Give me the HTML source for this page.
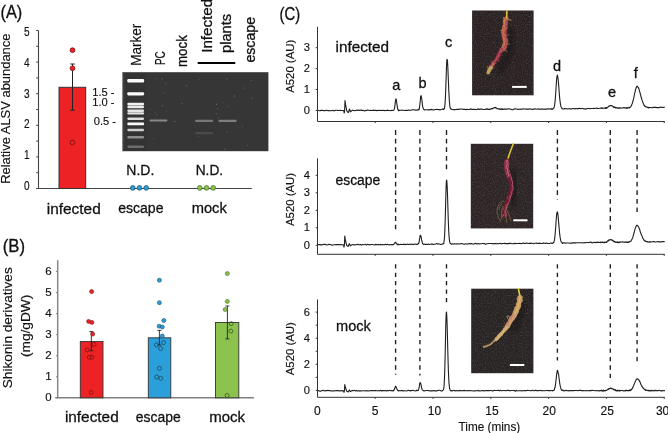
<!DOCTYPE html>
<html><head><meta charset="utf-8"><style>
html,body{margin:0;padding:0;background:#fff;}
svg{display:block;will-change:transform;}
</style></head><body>
<svg width="668" height="433" viewBox="0 0 668 433" font-family="Liberation Sans, sans-serif">
<defs>
<filter id="grain" x="0" y="0" width="100%" height="100%">
<feTurbulence type="fractalNoise" baseFrequency="0.9" numOctaves="2" seed="3" result="n"/>
<feColorMatrix type="matrix" values="0 0 0 0 0.42  0 0 0 0 0.36  0 0 0 0 0.36  0 0 0 2.2 -1.0"/>
<feComposite in2="SourceGraphic" operator="in"/>
</filter>
<filter id="bl2" x="-50%" y="-50%" width="200%" height="200%"><feGaussianBlur stdDeviation="2"/></filter>
<filter id="bl" x="-10%" y="-50%" width="120%" height="200%"><feGaussianBlur stdDeviation="0.75"/></filter>
</defs>
<rect width="668" height="433" fill="#fff"/>
<text x="0.5" y="18.3" font-size="18.5" textLength="21.8" lengthAdjust="spacingAndGlyphs" fill="#111" stroke="#111" stroke-width="0.3" >(A)</text>
<line x1="38.5" y1="30.5" x2="38.5" y2="188.5" stroke="#444" stroke-width="1.1" />
<line x1="36.2" y1="188.5" x2="38.5" y2="188.5" stroke="#444" stroke-width="1" />
<line x1="36.2" y1="172.7" x2="38.5" y2="172.7" stroke="#444" stroke-width="1" />
<line x1="36.2" y1="156.9" x2="38.5" y2="156.9" stroke="#444" stroke-width="1" />
<line x1="36.2" y1="141.1" x2="38.5" y2="141.1" stroke="#444" stroke-width="1" />
<line x1="36.2" y1="125.3" x2="38.5" y2="125.3" stroke="#444" stroke-width="1" />
<line x1="36.2" y1="109.5" x2="38.5" y2="109.5" stroke="#444" stroke-width="1" />
<line x1="36.2" y1="93.69999999999999" x2="38.5" y2="93.69999999999999" stroke="#444" stroke-width="1" />
<line x1="36.2" y1="77.89999999999999" x2="38.5" y2="77.89999999999999" stroke="#444" stroke-width="1" />
<line x1="36.2" y1="62.099999999999994" x2="38.5" y2="62.099999999999994" stroke="#444" stroke-width="1" />
<line x1="36.2" y1="46.29999999999998" x2="38.5" y2="46.29999999999998" stroke="#444" stroke-width="1" />
<line x1="36.2" y1="30.5" x2="38.5" y2="30.5" stroke="#444" stroke-width="1" />
<text x="29.6" y="190.2" font-size="12.5" text-anchor="end" textLength="5.6" lengthAdjust="spacingAndGlyphs" fill="#111" stroke="#111" stroke-width="0.15" >0</text>
<text x="29.6" y="159.3" font-size="12.5" text-anchor="end" textLength="5.6" lengthAdjust="spacingAndGlyphs" fill="#111" stroke="#111" stroke-width="0.15" >1</text>
<text x="29.6" y="128.4" font-size="12.5" text-anchor="end" textLength="5.6" lengthAdjust="spacingAndGlyphs" fill="#111" stroke="#111" stroke-width="0.15" >2</text>
<text x="29.6" y="97.5" font-size="12.5" text-anchor="end" textLength="5.6" lengthAdjust="spacingAndGlyphs" fill="#111" stroke="#111" stroke-width="0.15" >3</text>
<text x="29.6" y="66.6" font-size="12.5" text-anchor="end" textLength="5.6" lengthAdjust="spacingAndGlyphs" fill="#111" stroke="#111" stroke-width="0.15" >4</text>
<text x="29.6" y="35.7" font-size="12.5" text-anchor="end" textLength="5.6" lengthAdjust="spacingAndGlyphs" fill="#111" stroke="#111" stroke-width="0.15" >5</text>
<line x1="36.0" y1="188.5" x2="251.8" y2="188.5" stroke="#444" stroke-width="1.1" />
<text transform="translate(9.8,108.7) rotate(-90)" x="0" y="0" font-size="12.6" text-anchor="middle" textLength="150.3" lengthAdjust="spacingAndGlyphs" fill="#111" stroke="#111" stroke-width="0.15">Relative ALSV abundance</text>
<rect x="59.0" y="87.3" width="26.7" height="101.2" fill="#ED2224" stroke="#333" stroke-width="1" />
<line x1="72.5" y1="64.0" x2="72.5" y2="110.2" stroke="#222" stroke-width="1" />
<line x1="70.3" y1="64.0" x2="74.7" y2="64.0" stroke="#222" stroke-width="1" />
<line x1="70.3" y1="110.2" x2="74.7" y2="110.2" stroke="#222" stroke-width="1" />
<circle cx="72.5" cy="50.2" r="2.4" fill="#ED2224" stroke="#7a1010" stroke-width="0.8"/>
<circle cx="72.5" cy="68.3" r="2.4" fill="#ED2224" stroke="#7a1010" stroke-width="0.8"/>
<circle cx="72.3" cy="142.5" r="2.3" fill="none" stroke="#7a1010" stroke-width="0.9"/>
<circle cx="132.8" cy="187.9" r="2.4" fill="#2A9FD9" stroke="#1b4f70" stroke-width="0.7"/>
<circle cx="139.5" cy="187.9" r="2.4" fill="#2A9FD9" stroke="#1b4f70" stroke-width="0.7"/>
<circle cx="146.2" cy="187.9" r="2.4" fill="#2A9FD9" stroke="#1b4f70" stroke-width="0.7"/>
<circle cx="199.8" cy="187.9" r="2.4" fill="#8CC34E" stroke="#3f6a1f" stroke-width="0.7"/>
<circle cx="206.5" cy="187.9" r="2.4" fill="#8CC34E" stroke="#3f6a1f" stroke-width="0.7"/>
<circle cx="213.2" cy="187.9" r="2.4" fill="#8CC34E" stroke="#3f6a1f" stroke-width="0.7"/>
<text x="126.3" y="174.7" font-size="15.5" textLength="28" lengthAdjust="spacingAndGlyphs" fill="#111" stroke="#111" stroke-width="0.3" >N.D.</text>
<text x="195.7" y="174.7" font-size="15.5" textLength="27.4" lengthAdjust="spacingAndGlyphs" fill="#111" stroke="#111" stroke-width="0.3" >N.D.</text>
<text x="46.8" y="213.6" font-size="15.5" textLength="53.9" lengthAdjust="spacingAndGlyphs" fill="#111" stroke="#111" stroke-width="0.3" >infected</text>
<text x="118.2" y="212.9" font-size="15.5" textLength="45.3" lengthAdjust="spacingAndGlyphs" fill="#111" stroke="#111" stroke-width="0.3" >escape</text>
<text x="191.7" y="212.6" font-size="15.5" textLength="35.1" lengthAdjust="spacingAndGlyphs" fill="#111" stroke="#111" stroke-width="0.3" >mock</text>
<rect x="122.6" y="72.2" width="145.8" height="79.0" fill="#363636" stroke="none" stroke-width="1" />
<rect x="122.6" y="72.2" width="1.0" height="79.0" fill="#4a4a4a" stroke="none" stroke-width="1" />
<rect x="125.5" y="73" width="20.5" height="78" fill="#333333" stroke="none" stroke-width="1" />
<g filter="url(#bl)">
<rect x="127.3" y="79.05" width="16.8" height="3.5" rx="1.1" fill="#fafafa" opacity="1.0"/>
<rect x="127.3" y="92.14999999999999" width="16.8" height="3.3" rx="1.1" fill="#fafafa" opacity="1.0"/>
<rect x="127.3" y="102.8" width="16.8" height="2.6" rx="1.1" fill="#fafafa" opacity="0.95"/>
<rect x="127.3" y="105.65" width="16.8" height="2.5" rx="1.1" fill="#fafafa" opacity="0.92"/>
<rect x="127.3" y="109.45" width="16.8" height="2.5" rx="1.1" fill="#fafafa" opacity="0.9"/>
<rect x="127.3" y="112.2" width="16.8" height="2.4" rx="1.1" fill="#fafafa" opacity="0.88"/>
<rect x="127.3" y="117.45" width="16.8" height="2.5" rx="1.1" fill="#fafafa" opacity="0.85"/>
<rect x="127.3" y="122.5" width="16.8" height="2.8" rx="1.1" fill="#fafafa" opacity="1.0"/>
<rect x="127.3" y="128.65" width="16.8" height="2.5" rx="1.1" fill="#fafafa" opacity="0.78"/>
<rect x="127.3" y="136.05" width="16.8" height="2.5" rx="1.1" fill="#fafafa" opacity="0.45"/>
<rect x="127.3" y="145.45" width="16.8" height="2.5" rx="1.1" fill="#fafafa" opacity="0.28"/>
<rect x="149.5" y="119.4" width="18.0" height="2.2" rx="1" fill="#f0ece8" opacity="0.45"/>
<rect x="195.1" y="119.7" width="18.0" height="2.2" rx="1" fill="#f0ece8" opacity="0.36"/>
<rect x="218.4" y="119.7" width="18.19999999999999" height="2.2" rx="1" fill="#f0ece8" opacity="0.4"/>
<rect x="195.1" y="132.1" width="18.0" height="2.2" rx="1" fill="#f0ece8" opacity="0.11"/>
</g>
<rect x="186.2" y="85.3" width="0.9" height="0.9" fill="#bbb" opacity="0.46"/>
<rect x="156.5" y="114.2" width="0.9" height="0.9" fill="#bbb" opacity="0.35"/>
<rect x="154.8" y="112.1" width="0.9" height="0.9" fill="#bbb" opacity="0.21"/>
<rect x="199.2" y="79.2" width="0.9" height="0.9" fill="#bbb" opacity="0.24"/>
<rect x="198.1" y="136.0" width="0.9" height="0.9" fill="#bbb" opacity="0.25"/>
<rect x="174.3" y="121.1" width="0.9" height="0.9" fill="#bbb" opacity="0.58"/>
<rect x="216.1" y="103.8" width="0.9" height="0.9" fill="#bbb" opacity="0.59"/>
<rect x="153.5" y="138.4" width="0.9" height="0.9" fill="#bbb" opacity="0.32"/>
<rect x="165.0" y="82.8" width="0.9" height="0.9" fill="#bbb" opacity="0.32"/>
<rect x="244.3" y="87.6" width="0.9" height="0.9" fill="#bbb" opacity="0.43"/>
<rect x="223.4" y="101.9" width="0.9" height="0.9" fill="#bbb" opacity="0.42"/>
<rect x="155.4" y="78.5" width="0.9" height="0.9" fill="#bbb" opacity="0.28"/>
<rect x="228.3" y="106.1" width="0.9" height="0.9" fill="#bbb" opacity="0.33"/>
<rect x="217.1" y="108.0" width="0.9" height="0.9" fill="#bbb" opacity="0.32"/>
<rect x="241.7" y="126.4" width="0.9" height="0.9" fill="#bbb" opacity="0.30"/>
<rect x="215.8" y="113.4" width="0.9" height="0.9" fill="#bbb" opacity="0.55"/>
<rect x="234.1" y="95.6" width="0.9" height="0.9" fill="#bbb" opacity="0.59"/>
<rect x="161.9" y="105.4" width="0.9" height="0.9" fill="#bbb" opacity="0.50"/>
<rect x="165.9" y="110.7" width="0.9" height="0.9" fill="#bbb" opacity="0.22"/>
<rect x="226.8" y="131.3" width="0.9" height="0.9" fill="#bbb" opacity="0.43"/>
<rect x="251.3" y="97.5" width="0.9" height="0.9" fill="#bbb" opacity="0.48"/>
<rect x="218.1" y="117.5" width="0.9" height="0.9" fill="#bbb" opacity="0.38"/>
<rect x="247.1" y="144.9" width="0.9" height="0.9" fill="#bbb" opacity="0.39"/>
<rect x="226.4" y="78.6" width="0.9" height="0.9" fill="#bbb" opacity="0.48"/>
<rect x="224.4" y="148.5" width="0.9" height="0.9" fill="#bbb" opacity="0.53"/>
<rect x="181.6" y="102.9" width="0.9" height="0.9" fill="#bbb" opacity="0.47"/>
<rect x="150.7" y="108.6" width="0.9" height="0.9" fill="#bbb" opacity="0.27"/>
<rect x="161.8" y="78.4" width="0.9" height="0.9" fill="#bbb" opacity="0.51"/>
<rect x="163.3" y="92.6" width="0.9" height="0.9" fill="#bbb" opacity="0.36"/>
<rect x="250.8" y="80.0" width="0.9" height="0.9" fill="#bbb" opacity="0.38"/>
<text x="92.2" y="95.6" font-size="11" textLength="22.3" lengthAdjust="spacingAndGlyphs" fill="#111" stroke="#111" stroke-width="0.15" >1.5 -</text>
<text x="92.2" y="106.4" font-size="11" textLength="22.3" lengthAdjust="spacingAndGlyphs" fill="#111" stroke="#111" stroke-width="0.15" >1.0 -</text>
<text x="93.7" y="125.3" font-size="11" textLength="22.3" lengthAdjust="spacingAndGlyphs" fill="#111" stroke="#111" stroke-width="0.15" >0.5 -</text>
<text transform="translate(140.6,65.7) rotate(-90)" x="0" y="0" font-size="14.2" textLength="42.0" lengthAdjust="spacingAndGlyphs" fill="#111" stroke="#111" stroke-width="0.15">Marker</text>
<text transform="translate(164.6,65.1) rotate(-90)" x="0" y="0" font-size="14.2" textLength="14.0" lengthAdjust="spacingAndGlyphs" fill="#111" stroke="#111" stroke-width="0.15">PC</text>
<text transform="translate(186.8,67.0) rotate(-90)" x="0" y="0" font-size="14.5" textLength="31.8" lengthAdjust="spacingAndGlyphs" fill="#111" stroke="#111" stroke-width="0.3">mock</text>
<text transform="translate(211.9,52.8) rotate(-90)" x="0" y="0" font-size="14.5" textLength="54" lengthAdjust="spacingAndGlyphs" fill="#111" stroke="#111" stroke-width="0.3">Infected</text>
<text transform="translate(230.8,52.9) rotate(-90)" x="0" y="0" font-size="14.5" textLength="38.9" lengthAdjust="spacingAndGlyphs" fill="#111" stroke="#111" stroke-width="0.3">plants</text>
<text transform="translate(255.2,62.6) rotate(-90)" x="0" y="0" font-size="14.5" textLength="45.6" lengthAdjust="spacingAndGlyphs" fill="#111" stroke="#111" stroke-width="0.3">escape</text>
<line x1="197.7" y1="63.0" x2="235.3" y2="63.0" stroke="#000" stroke-width="2" />
<text x="2.7" y="252.2" font-size="18.5" textLength="22.3" lengthAdjust="spacingAndGlyphs" fill="#111" stroke="#111" stroke-width="0.3" >(B)</text>
<line x1="57.7" y1="260.2" x2="57.7" y2="397.8" stroke="#888" stroke-width="1.5" />
<line x1="55.900000000000006" y1="397.8" x2="57.7" y2="397.8" stroke="#888" stroke-width="1.1" />
<text x="51.7" y="401.1" font-size="11.8" text-anchor="end" textLength="6.4" lengthAdjust="spacingAndGlyphs" fill="#111" stroke="#111" stroke-width="0.15" >0</text>
<line x1="55.900000000000006" y1="376.75" x2="57.7" y2="376.75" stroke="#888" stroke-width="1.1" />
<text x="51.7" y="380.05" font-size="11.8" text-anchor="end" textLength="6.4" lengthAdjust="spacingAndGlyphs" fill="#111" stroke="#111" stroke-width="0.15" >1</text>
<line x1="55.900000000000006" y1="355.7" x2="57.7" y2="355.7" stroke="#888" stroke-width="1.1" />
<text x="51.7" y="359.0" font-size="11.8" text-anchor="end" textLength="6.4" lengthAdjust="spacingAndGlyphs" fill="#111" stroke="#111" stroke-width="0.15" >2</text>
<line x1="55.900000000000006" y1="334.65" x2="57.7" y2="334.65" stroke="#888" stroke-width="1.1" />
<text x="51.7" y="337.95" font-size="11.8" text-anchor="end" textLength="6.4" lengthAdjust="spacingAndGlyphs" fill="#111" stroke="#111" stroke-width="0.15" >3</text>
<line x1="55.900000000000006" y1="313.6" x2="57.7" y2="313.6" stroke="#888" stroke-width="1.1" />
<text x="51.7" y="316.9" font-size="11.8" text-anchor="end" textLength="6.4" lengthAdjust="spacingAndGlyphs" fill="#111" stroke="#111" stroke-width="0.15" >4</text>
<line x1="55.900000000000006" y1="292.55" x2="57.7" y2="292.55" stroke="#888" stroke-width="1.1" />
<text x="51.7" y="295.85" font-size="11.8" text-anchor="end" textLength="6.4" lengthAdjust="spacingAndGlyphs" fill="#111" stroke="#111" stroke-width="0.15" >5</text>
<line x1="55.900000000000006" y1="271.5" x2="57.7" y2="271.5" stroke="#888" stroke-width="1.1" />
<text x="51.7" y="274.8" font-size="11.8" text-anchor="end" textLength="6.4" lengthAdjust="spacingAndGlyphs" fill="#111" stroke="#111" stroke-width="0.15" >6</text>
<line x1="55.2" y1="397.8" x2="253.9" y2="397.8" stroke="#808080" stroke-width="1.6" />
<text transform="translate(11.7,388.2) rotate(-90)" x="0" y="0" font-size="13" textLength="120.9" lengthAdjust="spacingAndGlyphs" fill="#111" stroke="#111" stroke-width="0.15">Shikonin derivatives</text>
<text transform="translate(29.6,357.0) rotate(-90)" x="0" y="0" font-size="12.2" textLength="62.2" lengthAdjust="spacingAndGlyphs" fill="#111" stroke="#111" stroke-width="0.15">(mg/gDW)</text>
<rect x="80.3" y="341.5" width="22.700000000000003" height="56.30000000000001" fill="#ED2224" stroke="#333" stroke-width="0.9" />
<rect x="148.3" y="337.8" width="22.5" height="60.0" fill="#2A9FD9" stroke="#333" stroke-width="0.9" />
<rect x="215.5" y="322.5" width="23.30000000000001" height="75.30000000000001" fill="#8CC34E" stroke="#333" stroke-width="0.9" />
<line x1="91.3" y1="331.6" x2="91.3" y2="350.7" stroke="#222" stroke-width="0.9" />
<line x1="89.3" y1="331.6" x2="93.3" y2="331.6" stroke="#222" stroke-width="0.9" />
<line x1="89.3" y1="350.7" x2="93.3" y2="350.7" stroke="#222" stroke-width="0.9" />
<line x1="159.4" y1="330.4" x2="159.4" y2="345.0" stroke="#222" stroke-width="0.9" />
<line x1="157.4" y1="330.4" x2="161.4" y2="330.4" stroke="#222" stroke-width="0.9" />
<line x1="157.4" y1="345.0" x2="161.4" y2="345.0" stroke="#222" stroke-width="0.9" />
<line x1="227.4" y1="306.0" x2="227.4" y2="338.9" stroke="#222" stroke-width="0.9" />
<line x1="225.4" y1="306.0" x2="229.4" y2="306.0" stroke="#222" stroke-width="0.9" />
<line x1="225.4" y1="338.9" x2="229.4" y2="338.9" stroke="#222" stroke-width="0.9" />
<circle cx="91.6" cy="291.6" r="2.0" fill="#ED2224" stroke="#7a1010" stroke-width="0.6"/>
<circle cx="88.6" cy="321.4" r="2.0" fill="#ED2224" stroke="#7a1010" stroke-width="0.6"/>
<circle cx="91.9" cy="322.4" r="2.0" fill="#ED2224" stroke="#7a1010" stroke-width="0.6"/>
<circle cx="92.7" cy="334.1" r="2.0" fill="#ED2224" stroke="#7a1010" stroke-width="0.6"/>
<circle cx="94.1" cy="344.4" r="2.0" fill="none" stroke="#7a1010" stroke-width="0.7"/>
<circle cx="87.1" cy="349.9" r="2.0" fill="none" stroke="#7a1010" stroke-width="0.7"/>
<circle cx="89.3" cy="357.3" r="2.0" fill="none" stroke="#7a1010" stroke-width="0.7"/>
<circle cx="92.0" cy="357.3" r="2.0" fill="none" stroke="#7a1010" stroke-width="0.7"/>
<circle cx="91.2" cy="392.5" r="2.0" fill="none" stroke="#7a1010" stroke-width="0.7"/>
<circle cx="159.4" cy="280.2" r="2.0" fill="#2A9FD9" stroke="#1b4f70" stroke-width="0.6"/>
<circle cx="159.4" cy="302.7" r="2.0" fill="#2A9FD9" stroke="#1b4f70" stroke-width="0.6"/>
<circle cx="163.8" cy="320.5" r="2.0" fill="#2A9FD9" stroke="#1b4f70" stroke-width="0.6"/>
<circle cx="159.1" cy="326.2" r="2.0" fill="#2A9FD9" stroke="#1b4f70" stroke-width="0.6"/>
<circle cx="162.3" cy="327.0" r="2.0" fill="#2A9FD9" stroke="#1b4f70" stroke-width="0.6"/>
<circle cx="162.3" cy="336.0" r="2.0" fill="#2A9FD9" stroke="#1b4f70" stroke-width="0.6"/>
<circle cx="163.5" cy="342.6" r="2.0" fill="none" stroke="#1b3f55" stroke-width="0.7"/>
<circle cx="156.5" cy="344.9" r="2.0" fill="none" stroke="#1b3f55" stroke-width="0.7"/>
<circle cx="160.7" cy="348.6" r="2.0" fill="none" stroke="#1b3f55" stroke-width="0.7"/>
<circle cx="159.4" cy="368.4" r="2.0" fill="none" stroke="#1b3f55" stroke-width="0.7"/>
<circle cx="156.7" cy="377.0" r="2.0" fill="none" stroke="#1b3f55" stroke-width="0.7"/>
<circle cx="160.7" cy="378.3" r="2.0" fill="none" stroke="#1b3f55" stroke-width="0.7"/>
<circle cx="227.3" cy="273.6" r="2.0" fill="#8CC34E" stroke="#3f6a1f" stroke-width="0.6"/>
<circle cx="227.3" cy="301.4" r="2.0" fill="#8CC34E" stroke="#3f6a1f" stroke-width="0.6"/>
<circle cx="225.2" cy="309.5" r="2.0" fill="#8CC34E" stroke="#3f6a1f" stroke-width="0.6"/>
<circle cx="231.2" cy="323.6" r="2.0" fill="none" stroke="#2f4a1a" stroke-width="0.7"/>
<circle cx="230.9" cy="331.1" r="2.0" fill="none" stroke="#2f4a1a" stroke-width="0.7"/>
<circle cx="227.1" cy="395.5" r="2.0" fill="none" stroke="#2f4a1a" stroke-width="0.7"/>
<text x="64.9" y="421.6" font-size="15.5" textLength="53.8" lengthAdjust="spacingAndGlyphs" fill="#111" stroke="#111" stroke-width="0.3" >infected</text>
<text x="135.8" y="421.6" font-size="15.5" textLength="44.9" lengthAdjust="spacingAndGlyphs" fill="#111" stroke="#111" stroke-width="0.3" >escape</text>
<text x="209.2" y="421.6" font-size="15.5" textLength="35.9" lengthAdjust="spacingAndGlyphs" fill="#111" stroke="#111" stroke-width="0.3" >mock</text>
<text x="279.6" y="19.6" font-size="17.8" textLength="20.6" lengthAdjust="spacingAndGlyphs" fill="#111" stroke="#111" stroke-width="0.3">(C)</text>
<line x1="317.5" y1="26.8" x2="317.5" y2="121.5" stroke="#333" stroke-width="1" />
<line x1="317.5" y1="121.5" x2="664.8" y2="121.5" stroke="#333" stroke-width="1" />
<line x1="375.2" y1="121.5" x2="375.2" y2="123.1" stroke="#333" stroke-width="1" />
<line x1="433.0" y1="121.5" x2="433.0" y2="123.1" stroke="#333" stroke-width="1" />
<line x1="490.79999999999995" y1="121.5" x2="490.79999999999995" y2="123.1" stroke="#333" stroke-width="1" />
<line x1="548.6" y1="121.5" x2="548.6" y2="123.1" stroke="#333" stroke-width="1" />
<line x1="606.4" y1="121.5" x2="606.4" y2="123.1" stroke="#333" stroke-width="1" />
<line x1="664.2" y1="121.5" x2="664.2" y2="123.1" stroke="#333" stroke-width="1" />
<line x1="315.7" y1="110.4" x2="317.5" y2="110.4" stroke="#333" stroke-width="1" />
<line x1="315.7" y1="89.5" x2="317.5" y2="89.5" stroke="#333" stroke-width="1" />
<line x1="315.7" y1="68.60000000000001" x2="317.5" y2="68.60000000000001" stroke="#333" stroke-width="1" />
<line x1="315.7" y1="47.70000000000001" x2="317.5" y2="47.70000000000001" stroke="#333" stroke-width="1" />
<text x="310.0" y="113.8" font-size="11.5" text-anchor="end" textLength="6.2" lengthAdjust="spacingAndGlyphs" fill="#111" stroke="#111" stroke-width="0.15">0</text>
<text x="310.0" y="92.9" font-size="11.5" text-anchor="end" textLength="6.2" lengthAdjust="spacingAndGlyphs" fill="#111" stroke="#111" stroke-width="0.15">1</text>
<text x="310.0" y="72.0" font-size="11.5" text-anchor="end" textLength="6.2" lengthAdjust="spacingAndGlyphs" fill="#111" stroke="#111" stroke-width="0.15">2</text>
<text x="310.0" y="51.1" font-size="11.5" text-anchor="end" textLength="6.2" lengthAdjust="spacingAndGlyphs" fill="#111" stroke="#111" stroke-width="0.15">3</text>
<text transform="translate(293.9,66.3) rotate(-90)" x="0" y="0" font-size="11.4" text-anchor="middle" textLength="53.0" lengthAdjust="spacingAndGlyphs" fill="#111" stroke="#111" stroke-width="0.15">A520 (AU)</text>
<text x="335.5" y="51.5" font-size="15.5" textLength="53.6" lengthAdjust="spacingAndGlyphs" fill="#111" stroke="#111" stroke-width="0.3">infected</text>
<polyline points="318.00,110.23 319.00,110.58 320.00,110.71 321.00,110.38 322.00,110.20 323.00,110.47 324.00,110.59 325.00,110.72 326.00,110.21 327.00,110.19 328.00,110.63 329.00,110.58 330.00,110.81 331.00,110.68 332.00,110.44 333.00,110.40 334.00,111.03 335.00,110.39 336.00,110.28 337.00,110.20 338.00,110.47 339.00,110.48 340.00,110.37 341.00,110.43 342.00,110.50 343.00,110.48 343.25,110.57 343.50,110.66 343.75,110.99 344.00,112.24 344.25,112.98 344.50,111.70 344.75,107.33 345.00,100.51 345.25,102.41 345.50,104.20 345.75,105.54 346.00,106.88 346.25,108.22 346.50,109.56 346.75,110.72 347.00,111.15 347.25,111.59 347.50,112.03 347.75,112.13 348.00,112.23 348.25,112.33 348.50,112.42 348.75,111.57 349.00,110.72 349.25,109.87 349.50,109.02 349.75,109.72 350.00,110.42 350.25,111.12 350.50,111.82 350.75,111.59 351.00,111.37 351.25,111.14 351.50,110.92 351.75,110.72 352.00,110.52 352.25,110.32 352.50,110.12 352.75,110.19 353.00,110.26 353.25,110.34 353.50,110.41 353.75,110.56 354.75,110.65 355.75,110.45 356.75,110.01 357.75,110.56 358.75,110.09 359.75,110.36 360.75,110.07 361.75,110.39 362.75,110.22 363.75,110.43 364.75,111.11 365.75,110.37 366.75,110.57 367.75,110.09 368.75,110.31 369.75,110.52 370.75,110.35 371.75,110.45 372.75,110.39 373.75,110.14 374.75,110.49 375.75,110.18 376.75,110.77 377.75,110.24 378.75,110.50 379.75,110.35 380.75,110.56 381.75,110.21 382.75,110.56 383.75,110.31 384.75,110.61 385.75,110.47 386.75,110.36 387.75,110.16 388.75,110.50 389.75,110.43 390.75,110.68 391.75,110.24 392.75,110.44 393.00,110.42 393.25,110.36 393.50,110.29 393.75,110.16 394.00,109.71 394.25,109.06 394.50,108.19 394.75,106.86 395.00,105.00 395.25,102.56 395.50,100.48 395.75,99.11 396.00,98.93 396.25,99.59 396.50,101.19 396.75,103.27 397.00,104.74 397.25,106.39 397.50,108.35 397.75,108.96 398.00,109.76 398.25,110.11 398.50,109.88 398.75,110.76 399.00,110.66 399.25,110.33 399.50,110.46 400.50,110.32 401.50,110.08 402.50,110.23 403.50,110.31 404.50,110.46 405.50,110.35 406.50,110.18 407.50,110.45 408.50,109.96 409.50,110.28 410.50,110.33 411.50,110.01 412.50,109.66 413.50,109.83 414.50,110.06 415.50,110.11 416.50,110.31 417.50,109.73 417.75,109.94 418.00,110.07 418.25,109.86 418.50,109.30 418.75,109.82 419.00,109.79 419.25,108.81 419.50,107.21 419.75,105.54 420.00,103.31 420.25,101.10 420.50,98.10 420.75,96.10 421.00,95.72 421.25,95.80 421.50,97.48 421.75,98.77 422.00,100.96 422.25,103.38 422.50,105.46 422.75,106.85 423.00,107.94 423.25,108.28 423.50,109.04 423.75,109.36 424.00,109.54 424.25,109.87 424.50,109.70 424.75,109.97 425.00,109.81 426.00,109.71 427.00,109.79 428.00,109.83 429.00,109.91 430.00,109.59 431.00,109.63 432.00,109.36 433.00,109.99 434.00,109.94 435.00,109.56 436.00,109.47 437.00,109.29 438.00,109.58 439.00,109.57 440.00,109.98 441.00,109.53 442.00,109.29 443.00,108.89 443.25,109.71 443.50,109.39 443.75,108.89 444.00,109.05 444.25,108.19 444.50,108.46 444.75,106.46 445.00,103.96 445.25,100.24 445.50,94.89 445.75,89.07 446.00,81.48 446.25,74.34 446.50,66.74 446.75,61.69 447.00,59.41 447.25,59.65 447.50,61.36 447.75,65.44 448.00,71.46 448.25,77.67 448.50,83.60 448.75,89.61 449.00,94.81 449.25,98.98 449.50,102.40 449.75,105.25 450.00,106.81 450.25,108.22 450.50,108.45 450.75,108.85 451.00,108.91 451.25,109.22 451.50,109.03 451.75,108.96 452.00,109.52 453.00,109.69 454.00,109.55 455.00,109.66 456.00,109.42 457.00,109.20 458.00,109.37 459.00,109.27 460.00,109.10 461.00,108.97 462.00,109.01 463.00,109.33 464.00,109.36 465.00,109.22 466.00,109.64 467.00,109.36 468.00,109.44 469.00,109.58 470.00,109.13 471.00,108.87 472.00,109.47 473.00,109.15 474.00,109.58 475.00,109.37 476.00,109.51 477.00,109.45 478.00,108.82 479.00,109.43 480.00,109.12 481.00,109.10 482.00,109.17 483.00,109.43 484.00,109.45 485.00,109.48 486.00,108.89 487.00,109.12 487.25,108.72 487.50,109.22 487.75,109.37 488.00,109.07 488.25,109.29 488.50,109.28 488.75,109.45 489.00,109.04 489.25,109.02 489.50,109.03 489.75,109.56 490.00,109.39 490.25,109.10 490.50,109.14 490.75,109.07 491.00,109.03 491.25,108.88 491.50,108.77 491.75,108.48 492.00,108.52 492.25,108.93 492.50,108.57 492.75,108.35 493.00,108.18 493.25,108.13 493.50,108.09 493.75,107.77 494.00,107.88 494.25,107.83 494.50,107.57 494.75,107.55 495.00,107.51 495.25,107.52 495.50,108.00 495.75,107.36 496.00,107.90 496.25,107.93 496.50,108.03 496.75,108.30 497.00,108.64 497.25,108.52 497.50,108.58 497.75,108.57 498.00,108.76 498.25,109.07 498.50,108.85 498.75,108.74 499.00,108.76 499.25,108.83 499.50,108.80 499.75,109.37 500.00,109.23 500.25,109.11 500.50,109.49 500.75,109.03 501.00,109.35 501.25,109.36 501.50,108.85 501.75,108.85 502.00,108.99 502.25,109.39 502.50,109.48 502.75,108.92 503.00,109.42 504.00,109.10 505.00,109.10 506.00,109.06 507.00,109.10 508.00,108.77 509.00,108.95 510.00,108.89 511.00,109.27 512.00,109.62 513.00,109.75 514.00,109.08 515.00,108.77 516.00,109.05 517.00,108.93 518.00,109.57 519.00,109.26 520.00,108.97 521.00,109.33 522.00,109.24 523.00,108.76 524.00,109.00 525.00,109.06 526.00,109.11 527.00,109.13 528.00,109.02 529.00,109.14 530.00,108.96 531.00,108.89 532.00,109.42 533.00,109.16 534.00,109.17 535.00,108.72 536.00,109.03 537.00,109.25 538.00,108.78 539.00,109.30 540.00,108.97 541.00,109.14 542.00,109.02 543.00,109.09 544.00,109.30 545.00,108.95 546.00,109.38 547.00,108.86 548.00,108.82 549.00,109.18 550.00,108.78 551.00,108.93 551.25,109.21 551.50,109.28 551.75,108.62 552.00,109.11 552.25,109.41 552.50,109.23 552.75,108.88 553.00,108.73 553.25,108.68 553.50,108.28 553.75,108.13 554.00,107.61 554.25,106.81 554.50,105.94 554.75,104.01 555.00,101.61 555.25,99.48 555.50,95.80 555.75,92.29 556.00,88.45 556.25,84.51 556.50,80.79 556.75,78.01 557.00,76.54 557.25,75.06 557.50,75.39 557.75,76.72 558.00,78.40 558.25,80.78 558.50,83.62 558.75,86.09 559.00,89.53 559.25,92.88 559.50,95.91 559.75,98.75 560.00,100.89 560.25,102.69 560.50,104.35 560.75,105.56 561.00,106.63 561.25,107.45 561.50,107.75 561.75,108.01 562.00,108.25 562.25,108.85 562.50,108.99 562.75,109.00 563.00,109.01 563.25,109.02 563.50,108.85 563.75,109.00 564.75,108.62 565.75,108.79 566.75,108.66 567.75,108.96 568.75,108.66 569.75,108.75 570.75,108.85 571.75,109.04 572.75,108.55 573.75,108.51 574.75,108.88 575.75,108.44 576.75,108.76 577.75,108.52 578.75,108.61 579.75,108.22 580.75,108.76 581.75,108.48 582.75,108.38 583.75,109.01 584.75,108.70 585.75,109.30 586.75,108.60 587.75,108.42 588.75,108.50 589.75,108.82 590.75,108.44 591.75,108.53 592.75,108.53 593.75,108.20 594.75,108.42 595.75,108.26 596.75,108.08 597.75,108.53 598.75,108.47 599.75,108.33 600.75,108.10 601.00,107.85 601.25,108.40 601.50,108.26 601.75,107.91 602.00,108.26 602.25,107.94 602.50,108.26 602.75,108.30 603.00,108.34 603.25,108.30 603.50,108.29 603.75,107.99 604.00,108.15 604.25,108.11 604.50,108.16 604.75,108.26 605.00,108.32 605.25,108.52 605.50,107.56 605.75,108.18 606.00,107.99 606.25,108.48 606.50,108.11 606.75,107.45 607.00,107.79 607.25,107.47 607.50,107.66 607.75,107.05 608.00,107.09 608.25,106.90 608.50,106.72 608.75,106.41 609.00,105.95 609.25,106.28 609.50,106.23 609.75,105.86 610.00,105.54 610.25,105.73 610.50,105.77 610.75,105.61 611.00,105.67 611.25,106.03 611.50,105.54 611.75,105.76 612.00,105.57 612.25,105.95 612.50,106.08 612.75,106.17 613.00,106.38 613.25,107.07 613.50,106.78 613.75,106.94 614.00,107.58 614.25,107.21 614.50,106.96 614.75,107.54 615.00,107.34 615.25,107.99 615.50,107.43 615.75,107.64 616.00,107.47 616.25,107.88 616.50,107.68 616.75,107.91 617.00,107.87 617.25,107.83 617.50,108.19 617.75,108.20 618.00,108.01 618.25,107.81 618.50,107.77 618.75,108.07 619.00,108.53 619.25,107.90 619.50,107.83 619.75,107.85 620.00,107.76 620.25,107.78 620.50,107.95 620.75,108.30 621.75,107.97 622.75,107.84 623.75,107.59 624.00,107.98 624.25,107.93 624.50,107.66 624.75,107.69 625.00,107.91 625.25,108.14 625.50,108.05 625.75,107.95 626.00,107.83 626.25,107.97 626.50,107.89 626.75,108.36 627.00,107.62 627.25,107.78 627.50,108.12 627.75,107.77 628.00,108.12 628.25,107.76 628.50,107.77 628.75,107.60 629.00,107.32 629.25,107.33 629.50,107.93 629.75,107.46 630.00,107.30 630.25,107.19 630.50,106.88 630.75,106.70 631.00,106.10 631.25,105.72 631.50,105.54 631.75,104.72 632.00,103.91 632.25,103.48 632.50,102.65 632.75,102.06 633.00,100.85 633.25,99.78 633.50,98.88 633.75,98.17 634.00,96.65 634.25,95.50 634.50,94.25 634.75,93.11 635.00,92.08 635.25,91.07 635.50,89.36 635.75,89.08 636.00,87.96 636.25,87.22 636.50,87.30 636.75,86.38 637.00,86.68 637.25,86.47 637.50,86.15 637.75,86.72 638.00,87.12 638.25,87.38 638.50,87.45 638.75,88.52 639.00,89.27 639.25,89.85 639.50,91.34 639.75,91.77 640.00,92.66 640.25,93.62 640.50,94.47 640.75,95.42 641.00,96.56 641.25,97.53 641.50,98.25 641.75,99.20 642.00,99.74 642.25,100.94 642.50,101.39 642.75,102.29 643.00,102.67 643.25,103.34 643.50,104.03 643.75,104.19 644.00,105.43 644.25,105.26 644.50,105.59 644.75,105.74 645.00,106.52 645.25,106.70 645.50,106.65 645.75,106.45 646.00,106.79 646.25,107.15 646.50,107.00 646.75,106.94 647.00,107.01 647.25,107.16 647.50,107.38 647.75,107.27 648.00,107.44 648.25,108.08 648.50,107.87 648.75,107.26 649.00,107.58 649.25,107.53 649.50,107.48 649.75,107.75 650.00,107.44 650.25,107.45 650.50,107.43 650.75,107.49 651.75,107.79 652.75,107.66 653.75,107.18 654.75,107.36 655.75,107.27 656.75,107.61 657.75,107.46 658.75,107.59 659.75,107.37 660.75,106.95 661.75,107.45 662.75,107.39 663.75,107.43 664.75,107.02" fill="none" stroke="#1e1e1e" stroke-width="1.1" stroke-linejoin="round"/>
<line x1="317.5" y1="158.3" x2="317.5" y2="254.3" stroke="#333" stroke-width="1" />
<line x1="317.5" y1="254.3" x2="664.8" y2="254.3" stroke="#333" stroke-width="1" />
<line x1="375.2" y1="254.3" x2="375.2" y2="255.9" stroke="#333" stroke-width="1" />
<line x1="433.0" y1="254.3" x2="433.0" y2="255.9" stroke="#333" stroke-width="1" />
<line x1="490.79999999999995" y1="254.3" x2="490.79999999999995" y2="255.9" stroke="#333" stroke-width="1" />
<line x1="548.6" y1="254.3" x2="548.6" y2="255.9" stroke="#333" stroke-width="1" />
<line x1="606.4" y1="254.3" x2="606.4" y2="255.9" stroke="#333" stroke-width="1" />
<line x1="664.2" y1="254.3" x2="664.2" y2="255.9" stroke="#333" stroke-width="1" />
<line x1="315.7" y1="245.3" x2="317.5" y2="245.3" stroke="#333" stroke-width="1" />
<line x1="315.7" y1="227.8" x2="317.5" y2="227.8" stroke="#333" stroke-width="1" />
<line x1="315.7" y1="210.3" x2="317.5" y2="210.3" stroke="#333" stroke-width="1" />
<line x1="315.7" y1="192.8" x2="317.5" y2="192.8" stroke="#333" stroke-width="1" />
<line x1="315.7" y1="175.3" x2="317.5" y2="175.3" stroke="#333" stroke-width="1" />
<text x="310.0" y="248.7" font-size="11.5" text-anchor="end" textLength="6.2" lengthAdjust="spacingAndGlyphs" fill="#111" stroke="#111" stroke-width="0.15">0</text>
<text x="310.0" y="231.2" font-size="11.5" text-anchor="end" textLength="6.2" lengthAdjust="spacingAndGlyphs" fill="#111" stroke="#111" stroke-width="0.15">1</text>
<text x="310.0" y="213.7" font-size="11.5" text-anchor="end" textLength="6.2" lengthAdjust="spacingAndGlyphs" fill="#111" stroke="#111" stroke-width="0.15">2</text>
<text x="310.0" y="196.2" font-size="11.5" text-anchor="end" textLength="6.2" lengthAdjust="spacingAndGlyphs" fill="#111" stroke="#111" stroke-width="0.15">3</text>
<text x="310.0" y="178.7" font-size="11.5" text-anchor="end" textLength="6.2" lengthAdjust="spacingAndGlyphs" fill="#111" stroke="#111" stroke-width="0.15">4</text>
<text transform="translate(293.9,199.5) rotate(-90)" x="0" y="0" font-size="11.4" text-anchor="middle" textLength="53.0" lengthAdjust="spacingAndGlyphs" fill="#111" stroke="#111" stroke-width="0.15">A520 (AU)</text>
<text x="335.5" y="185.2" font-size="15.5" textLength="44.7" lengthAdjust="spacingAndGlyphs" fill="#111" stroke="#111" stroke-width="0.3">escape</text>
<polyline points="318.00,244.82 319.00,244.64 320.00,244.64 321.00,244.87 322.00,244.86 323.00,244.58 324.00,244.40 325.00,244.23 326.00,244.64 327.00,245.01 328.00,244.75 329.00,244.26 330.00,244.56 331.00,244.84 332.00,245.12 333.00,245.00 334.00,244.82 335.00,244.78 336.00,244.50 337.00,244.63 338.00,244.65 339.00,244.55 340.00,244.73 341.00,244.63 342.00,244.79 343.00,244.80 343.25,244.88 343.50,244.96 343.75,246.02 344.00,247.08 344.25,246.00 344.50,243.60 344.75,235.95 345.00,237.56 345.25,239.17 345.50,240.31 345.75,241.45 346.00,242.59 346.25,243.73 346.50,244.86 346.75,245.24 347.00,245.61 347.25,245.98 347.50,246.12 347.75,246.20 348.00,246.29 348.25,246.37 348.50,245.81 348.75,245.09 349.00,244.36 349.25,243.64 349.50,243.97 349.75,244.56 350.00,245.16 350.25,245.75 350.50,245.72 350.75,245.52 351.00,245.33 351.25,245.14 351.50,244.97 351.75,244.79 352.00,244.62 352.25,244.45 352.50,244.47 352.75,244.53 353.00,244.59 353.25,244.66 353.50,244.98 354.50,244.83 355.50,244.75 356.50,244.61 357.50,244.32 358.50,244.63 359.50,244.77 360.50,244.42 361.50,244.92 362.50,244.56 363.50,244.71 364.50,244.56 365.50,244.35 366.50,245.08 367.50,244.36 368.50,244.82 369.50,244.49 370.50,244.67 371.50,244.43 372.50,244.51 373.50,244.80 374.50,245.02 375.50,244.40 376.50,244.59 377.50,244.79 378.50,244.44 379.50,244.73 380.50,244.40 381.50,244.70 382.50,244.66 383.50,244.83 384.50,244.64 385.50,244.29 386.50,244.70 387.50,244.30 388.50,244.71 389.50,244.87 390.50,244.67 391.50,244.41 392.50,244.79 392.75,244.55 393.00,244.23 393.25,244.39 393.50,244.72 393.75,244.22 394.00,244.12 394.25,243.73 394.50,243.09 394.75,242.97 395.00,242.83 395.25,242.60 395.50,242.49 395.75,242.19 396.00,243.18 396.25,243.39 396.50,243.79 396.75,244.15 397.00,244.00 397.25,244.14 397.50,244.45 397.75,244.81 398.00,244.11 398.25,244.44 398.50,244.34 398.75,244.63 399.00,244.83 400.00,244.43 401.00,244.22 402.00,244.49 403.00,244.40 404.00,244.12 405.00,244.64 406.00,244.32 407.00,244.57 408.00,244.12 409.00,244.64 410.00,244.07 411.00,244.61 412.00,243.97 413.00,244.66 414.00,244.26 415.00,243.99 416.00,244.27 417.00,244.38 417.25,244.09 417.50,244.18 417.75,244.32 418.00,244.16 418.25,243.37 418.50,243.65 418.75,243.28 419.00,242.34 419.25,241.20 419.50,239.19 419.75,238.16 420.00,236.25 420.25,235.21 420.50,235.26 420.75,235.73 421.00,236.52 421.25,237.65 421.50,239.41 421.75,240.61 422.00,241.25 422.25,242.33 422.50,243.33 422.75,243.68 423.00,243.99 423.25,244.22 423.50,244.19 423.75,244.55 424.00,244.09 424.25,244.14 424.50,244.30 425.50,244.38 426.50,244.38 427.50,244.52 428.50,244.08 429.50,244.43 430.50,244.26 431.50,243.92 432.50,244.11 433.50,244.59 434.50,244.29 435.50,244.00 436.50,243.57 437.50,243.92 438.50,243.92 439.50,244.08 440.50,244.56 441.50,244.20 442.50,244.08 442.75,243.78 443.00,243.66 443.25,243.74 443.50,243.39 443.75,243.57 444.00,241.73 444.25,239.81 444.50,237.16 444.75,232.40 445.00,225.85 445.25,218.43 445.50,208.82 445.75,198.90 446.00,190.36 446.25,183.62 446.50,179.94 446.75,180.34 447.00,183.34 447.25,188.26 447.50,194.99 447.75,202.83 448.00,211.39 448.25,219.26 448.50,225.84 448.75,231.36 449.00,235.68 449.25,238.36 449.50,240.73 449.75,241.58 450.00,242.95 450.25,243.42 450.50,243.61 450.75,243.70 451.00,243.63 451.25,243.95 451.50,244.22 452.50,243.86 453.50,244.06 454.50,243.78 455.50,243.98 456.50,243.69 457.50,243.99 458.50,243.85 459.50,243.96 460.50,243.75 461.50,243.62 462.50,243.80 463.50,244.09 464.50,244.21 465.50,243.78 466.50,244.02 467.50,244.00 468.50,243.92 469.50,243.48 470.50,243.89 471.50,243.59 472.50,244.06 473.50,243.97 474.50,243.92 475.50,243.22 476.50,243.91 477.50,243.92 478.50,243.48 479.50,243.96 480.50,243.76 481.50,243.69 482.50,243.57 483.50,243.50 484.50,243.62 485.50,244.38 486.50,243.74 487.50,243.74 488.50,243.54 489.50,243.54 490.50,243.55 491.50,243.47 492.50,243.85 493.50,243.59 494.50,243.83 495.50,243.38 496.50,243.83 497.50,243.61 498.50,243.76 499.50,243.58 500.50,243.40 501.50,243.86 502.50,243.49 503.50,243.54 504.50,243.37 505.50,243.60 506.50,243.47 507.50,243.61 508.50,243.61 509.50,243.38 510.50,243.21 511.50,243.61 512.50,243.71 513.50,243.65 514.50,243.24 515.50,243.62 516.50,243.56 517.50,243.54 518.50,243.56 519.50,243.39 520.50,243.50 521.50,243.65 522.50,243.33 523.50,243.11 524.50,243.40 525.50,243.46 526.50,243.00 527.50,243.25 528.50,243.52 529.50,243.35 530.50,243.40 531.50,243.09 532.50,243.56 533.50,243.74 534.50,243.31 535.50,243.18 536.50,243.08 537.50,243.52 538.50,243.34 539.50,243.14 540.50,243.57 541.50,243.47 542.50,243.42 543.50,242.90 544.50,243.25 545.50,243.41 546.50,242.99 547.50,243.46 548.50,243.56 549.50,243.47 550.50,243.07 551.50,243.07 551.75,243.43 552.00,243.43 552.25,243.47 552.50,243.44 552.75,243.10 553.00,242.95 553.25,242.49 553.50,242.83 553.75,242.78 554.00,241.58 554.25,240.70 554.50,239.70 554.75,237.95 555.00,235.37 555.25,232.81 555.50,229.55 555.75,226.72 556.00,222.45 556.25,219.25 556.50,216.35 556.75,213.92 557.00,212.35 557.25,212.04 557.50,211.94 557.75,213.39 558.00,215.20 558.25,217.69 558.50,221.08 558.75,223.07 559.00,226.53 559.25,229.00 559.50,232.22 559.75,234.57 560.00,236.20 560.25,238.45 560.50,239.38 560.75,240.71 561.00,241.30 561.25,241.70 561.50,242.17 561.75,242.52 562.00,242.88 562.25,242.90 562.50,243.47 562.75,242.96 563.00,242.93 563.25,242.89 563.50,242.88 563.75,242.74 564.75,242.83 565.75,243.23 566.75,243.03 567.75,242.97 568.75,243.07 569.75,243.21 570.75,243.09 571.75,243.11 572.75,242.80 573.75,242.85 574.75,242.73 575.75,242.86 576.75,242.69 577.75,242.77 578.75,242.80 579.75,242.77 580.75,242.75 581.75,242.68 582.75,243.06 583.75,242.68 584.75,242.52 585.75,242.77 586.75,242.47 587.75,242.46 588.75,242.70 589.75,242.30 590.75,241.94 591.75,242.70 592.75,242.85 593.75,242.24 594.75,242.39 595.75,242.70 596.75,242.12 597.75,242.35 598.75,242.26 599.75,242.47 600.75,242.06 601.00,242.69 601.25,242.46 601.50,242.55 601.75,242.41 602.00,242.01 602.25,242.44 602.50,242.17 602.75,242.47 603.00,242.27 603.25,242.38 603.50,242.40 603.75,242.61 604.00,242.60 604.25,242.19 604.50,242.39 604.75,242.70 605.00,242.46 605.25,242.15 605.50,242.24 605.75,242.13 606.00,242.34 606.25,242.06 606.50,242.03 606.75,242.31 607.00,241.38 607.25,241.30 607.50,240.96 607.75,240.80 608.00,241.13 608.25,240.79 608.50,240.87 608.75,239.87 609.00,239.91 609.25,240.24 609.50,240.00 609.75,239.86 610.00,239.78 610.25,239.56 610.50,239.55 610.75,239.59 611.00,239.83 611.25,239.69 611.50,239.91 611.75,240.28 612.00,239.85 612.25,240.09 612.50,240.54 612.75,240.52 613.00,240.71 613.25,241.37 613.50,241.16 613.75,241.12 614.00,241.60 614.25,242.04 614.50,241.36 614.75,241.56 615.00,241.82 615.25,241.74 615.50,242.43 615.75,242.12 616.00,241.97 616.25,242.20 616.50,241.95 616.75,242.02 617.00,242.19 617.25,242.71 617.50,241.70 617.75,242.29 618.00,242.50 618.25,242.37 618.50,242.63 618.75,242.31 619.00,242.24 619.25,242.18 619.50,242.02 619.75,242.56 620.00,241.94 620.25,242.17 620.50,242.08 621.50,242.01 622.50,241.68 623.50,242.08 623.75,242.19 624.00,242.19 624.25,242.34 624.50,242.11 624.75,242.01 625.00,242.21 625.25,242.29 625.50,241.94 625.75,241.80 626.00,241.90 626.25,242.36 626.50,242.34 626.75,241.92 627.00,242.13 627.25,242.28 627.50,242.37 627.75,241.92 628.00,241.99 628.25,242.33 628.50,242.52 628.75,242.28 629.00,241.64 629.25,241.93 629.50,241.68 629.75,241.63 630.00,241.37 630.25,241.25 630.50,241.17 630.75,241.34 631.00,240.83 631.25,240.45 631.50,239.99 631.75,239.40 632.00,239.03 632.25,238.80 632.50,238.10 632.75,237.68 633.00,236.57 633.25,235.72 633.50,234.53 633.75,234.09 634.00,232.71 634.25,232.50 634.50,231.09 634.75,230.31 635.00,229.12 635.25,228.47 635.50,227.60 635.75,227.36 636.00,226.58 636.25,225.79 636.50,225.27 636.75,225.47 637.00,225.30 637.25,225.21 637.50,225.71 637.75,225.76 638.00,226.13 638.25,226.35 638.50,226.81 638.75,227.35 639.00,227.67 639.25,228.79 639.50,229.40 639.75,229.63 640.00,230.75 640.25,231.72 640.50,232.25 640.75,233.22 641.00,233.60 641.25,234.36 641.50,234.76 641.75,235.50 642.00,235.92 642.25,236.72 642.50,237.52 642.75,238.09 643.00,238.70 643.25,238.91 643.50,239.05 643.75,239.72 644.00,239.91 644.25,240.61 644.50,240.90 644.75,240.90 645.00,240.63 645.25,240.93 645.50,241.23 645.75,241.15 646.00,241.53 646.25,241.65 646.50,241.76 646.75,241.68 647.00,241.49 647.25,241.54 647.50,241.73 647.75,242.07 648.00,242.15 648.25,242.03 648.50,241.91 648.75,241.99 649.00,242.03 649.25,242.13 649.50,242.04 649.75,241.52 650.00,242.07 650.25,241.94 650.50,241.75 650.75,241.97 651.75,241.91 652.75,241.82 653.75,241.45 654.75,241.84 655.75,241.93 656.75,241.78 657.75,241.43 658.75,241.87 659.75,241.92 660.75,241.79 661.75,241.83 662.75,241.65 663.75,241.57 664.75,241.82" fill="none" stroke="#1e1e1e" stroke-width="1.1" stroke-linejoin="round"/>
<line x1="317.5" y1="299.4" x2="317.5" y2="397.3" stroke="#333" stroke-width="1" />
<line x1="317.5" y1="397.3" x2="664.8" y2="397.3" stroke="#333" stroke-width="1" />
<line x1="375.2" y1="397.3" x2="375.2" y2="398.90000000000003" stroke="#333" stroke-width="1" />
<line x1="433.0" y1="397.3" x2="433.0" y2="398.90000000000003" stroke="#333" stroke-width="1" />
<line x1="490.79999999999995" y1="397.3" x2="490.79999999999995" y2="398.90000000000003" stroke="#333" stroke-width="1" />
<line x1="548.6" y1="397.3" x2="548.6" y2="398.90000000000003" stroke="#333" stroke-width="1" />
<line x1="606.4" y1="397.3" x2="606.4" y2="398.90000000000003" stroke="#333" stroke-width="1" />
<line x1="664.2" y1="397.3" x2="664.2" y2="398.90000000000003" stroke="#333" stroke-width="1" />
<line x1="315.7" y1="390.4" x2="317.5" y2="390.4" stroke="#333" stroke-width="1" />
<line x1="315.7" y1="377.34999999999997" x2="317.5" y2="377.34999999999997" stroke="#333" stroke-width="1" />
<line x1="315.7" y1="364.29999999999995" x2="317.5" y2="364.29999999999995" stroke="#333" stroke-width="1" />
<line x1="315.7" y1="351.25" x2="317.5" y2="351.25" stroke="#333" stroke-width="1" />
<line x1="315.7" y1="338.2" x2="317.5" y2="338.2" stroke="#333" stroke-width="1" />
<line x1="315.7" y1="325.15" x2="317.5" y2="325.15" stroke="#333" stroke-width="1" />
<line x1="315.7" y1="312.09999999999997" x2="317.5" y2="312.09999999999997" stroke="#333" stroke-width="1" />
<text x="310.0" y="393.8" font-size="11.5" text-anchor="end" textLength="6.2" lengthAdjust="spacingAndGlyphs" fill="#111" stroke="#111" stroke-width="0.15">0</text>
<text x="310.0" y="367.7" font-size="11.5" text-anchor="end" textLength="6.2" lengthAdjust="spacingAndGlyphs" fill="#111" stroke="#111" stroke-width="0.15">2</text>
<text x="310.0" y="341.6" font-size="11.5" text-anchor="end" textLength="6.2" lengthAdjust="spacingAndGlyphs" fill="#111" stroke="#111" stroke-width="0.15">4</text>
<text x="310.0" y="315.5" font-size="11.5" text-anchor="end" textLength="6.2" lengthAdjust="spacingAndGlyphs" fill="#111" stroke="#111" stroke-width="0.15">6</text>
<text transform="translate(293.9,348.7) rotate(-90)" x="0" y="0" font-size="11.4" text-anchor="middle" textLength="53.0" lengthAdjust="spacingAndGlyphs" fill="#111" stroke="#111" stroke-width="0.15">A520 (AU)</text>
<text x="336.1" y="331.3" font-size="15.5" textLength="34.8" lengthAdjust="spacingAndGlyphs" fill="#111" stroke="#111" stroke-width="0.3">mock</text>
<polyline points="318.00,390.62 319.00,390.74 320.00,391.42 321.00,390.86 322.00,390.73 323.00,390.34 324.00,390.72 325.00,390.86 326.00,390.54 327.00,390.64 328.00,390.20 329.00,390.82 330.00,390.57 331.00,390.85 332.00,391.00 333.00,390.66 334.00,390.91 335.00,390.75 336.00,390.65 337.00,390.63 338.00,390.51 339.00,390.98 340.00,390.89 341.00,390.47 342.00,390.88 343.00,390.76 343.25,390.82 343.50,390.87 343.75,391.62 344.00,392.37 344.25,391.61 344.50,389.91 344.75,384.51 345.00,385.65 345.25,386.79 345.50,387.60 345.75,388.40 346.00,389.20 346.25,390.01 346.50,390.81 346.75,391.07 347.00,391.34 347.25,391.60 347.50,391.70 347.75,391.76 348.00,391.82 348.25,391.88 348.50,391.48 348.75,390.97 349.00,390.46 349.25,389.95 349.50,390.19 349.75,390.61 350.00,391.03 350.25,391.45 350.50,391.42 350.75,391.29 351.00,391.15 351.25,391.02 351.50,390.89 351.75,390.77 352.00,390.65 352.25,390.53 352.50,390.55 352.75,390.59 353.00,390.64 353.25,390.68 353.50,390.53 354.50,390.36 355.50,390.95 356.50,390.41 357.50,390.95 358.50,390.73 359.50,390.89 360.50,390.80 361.50,390.94 362.50,390.76 363.50,390.81 364.50,390.74 365.50,390.93 366.50,390.60 367.50,390.91 368.50,391.02 369.50,390.67 370.50,390.78 371.50,390.57 372.50,390.62 373.50,390.74 374.50,390.61 375.50,390.49 376.50,390.68 377.50,390.72 378.50,390.75 379.50,390.84 380.50,390.29 381.50,390.99 382.50,390.64 383.50,390.51 384.50,390.60 385.50,390.78 386.50,390.87 387.50,390.60 388.50,390.71 389.50,390.33 390.50,390.72 391.50,390.65 392.50,390.58 392.75,390.87 393.00,391.05 393.25,390.85 393.50,390.37 393.75,390.72 394.00,390.02 394.25,389.63 394.50,388.88 394.75,388.33 395.00,387.55 395.25,386.80 395.50,386.36 395.75,386.41 396.00,386.69 396.25,387.58 396.50,387.95 396.75,388.74 397.00,389.35 397.25,389.71 397.50,390.16 397.75,390.11 398.00,390.64 398.25,390.74 398.50,390.59 398.75,391.01 399.00,390.49 399.25,390.80 400.25,390.78 401.25,390.56 402.25,390.62 403.25,390.87 404.25,390.69 405.25,390.74 406.25,390.98 407.25,390.72 408.25,390.31 409.25,390.51 410.25,390.86 411.25,390.64 412.25,390.44 413.25,390.24 414.25,390.74 415.25,391.00 416.25,390.40 416.50,390.20 416.75,390.78 417.00,390.55 417.25,390.60 417.50,390.57 417.75,390.40 418.00,390.58 418.25,390.45 418.50,389.88 418.75,388.94 419.00,388.20 419.25,386.55 419.50,385.14 419.75,383.38 420.00,382.77 420.25,382.54 420.50,383.02 420.75,383.54 421.00,384.74 421.25,385.76 421.50,387.30 421.75,388.34 422.00,389.26 422.25,389.57 422.50,389.81 422.75,390.33 423.00,390.46 423.25,390.43 423.50,390.77 423.75,390.86 424.00,390.75 424.25,390.91 425.25,390.76 426.25,390.46 427.25,390.54 428.25,390.59 429.25,390.82 430.25,390.87 431.25,390.70 432.25,390.89 433.25,390.49 434.25,390.64 435.25,390.99 436.25,390.76 437.25,390.89 438.25,390.26 439.25,390.30 440.25,390.48 441.25,390.88 442.25,391.00 442.50,390.49 442.75,390.35 443.00,390.20 443.25,389.92 443.50,389.61 443.75,388.24 444.00,386.65 444.25,383.01 444.50,377.55 444.75,370.52 445.00,361.06 445.25,350.16 445.50,338.30 445.75,326.79 446.00,318.12 446.25,312.87 446.50,312.12 446.75,315.20 447.00,321.27 447.25,329.28 447.50,338.75 447.75,349.09 448.00,358.27 448.25,366.52 448.50,373.72 448.75,378.76 449.00,383.14 449.25,385.67 449.50,387.77 449.75,388.68 450.00,389.63 450.25,390.40 450.50,390.39 450.75,390.29 451.00,390.99 451.25,390.50 452.25,390.98 453.25,390.55 454.25,390.35 455.25,391.06 456.25,390.57 457.25,390.82 458.25,390.92 459.25,390.38 460.25,390.68 461.25,390.54 462.25,390.79 463.25,390.66 464.25,390.39 465.25,390.67 466.25,390.82 467.25,390.59 468.25,390.78 469.25,390.54 470.25,390.65 471.25,390.73 472.25,390.69 473.25,390.93 474.25,390.86 475.25,390.84 476.25,390.81 477.25,390.69 478.25,390.40 479.25,390.88 480.25,391.03 481.25,390.70 482.25,390.60 483.25,390.65 484.25,390.91 485.25,390.71 486.25,390.44 487.25,390.62 488.25,390.49 489.25,390.61 490.25,390.46 491.25,390.46 492.25,390.97 493.25,390.88 494.25,390.30 495.25,390.44 496.25,390.55 497.25,390.57 498.25,390.35 499.25,390.84 500.25,390.30 501.25,390.80 502.25,390.80 503.25,390.57 504.25,390.51 505.25,390.66 506.25,390.68 507.25,390.20 508.25,390.38 509.25,390.76 510.25,390.62 511.25,390.56 512.25,390.43 513.25,390.49 514.25,390.48 515.25,391.25 516.25,390.37 517.25,390.97 518.25,390.75 519.25,390.69 520.25,390.69 521.25,390.56 522.25,390.99 523.25,390.75 524.25,390.64 525.25,390.62 526.25,390.68 527.25,390.40 528.25,390.57 529.25,390.51 530.25,390.77 531.25,390.77 532.25,390.24 533.25,390.59 534.25,390.85 535.25,390.36 536.25,390.38 537.25,390.85 538.25,390.61 539.25,390.54 540.25,390.38 541.25,390.67 542.25,390.52 543.25,390.68 544.25,390.73 545.25,390.79 546.25,390.57 547.25,390.52 548.25,390.64 549.25,390.61 550.25,390.67 551.25,390.52 551.50,390.58 551.75,390.51 552.00,390.51 552.25,390.66 552.50,390.87 552.75,390.49 553.00,390.71 553.25,390.61 553.50,390.48 553.75,390.47 554.00,389.98 554.25,389.88 554.50,389.30 554.75,387.75 555.00,387.56 555.25,386.29 555.50,384.93 555.75,382.32 556.00,380.38 556.25,378.11 556.50,375.55 556.75,373.96 557.00,372.16 557.25,370.83 557.50,370.37 557.75,370.79 558.00,372.10 558.25,373.18 558.50,373.65 558.75,375.50 559.00,377.89 559.25,379.61 559.50,381.34 559.75,383.32 560.00,384.75 560.25,386.13 560.50,387.24 560.75,387.86 561.00,389.09 561.25,389.25 561.50,390.00 561.75,390.19 562.00,390.26 562.25,390.42 562.50,390.47 562.75,390.14 563.00,390.51 563.25,390.69 563.50,390.27 563.75,390.30 564.00,390.86 565.00,390.80 566.00,390.30 567.00,390.73 568.00,390.62 569.00,390.84 570.00,390.56 571.00,390.58 572.00,390.47 573.00,390.67 574.00,390.60 575.00,390.49 576.00,390.55 577.00,390.46 578.00,390.76 579.00,390.40 580.00,390.29 581.00,390.42 582.00,390.86 583.00,390.52 584.00,390.76 585.00,390.78 586.00,390.51 587.00,390.79 588.00,390.73 589.00,390.61 590.00,390.47 591.00,390.61 592.00,390.34 593.00,390.56 594.00,390.50 595.00,390.72 596.00,390.70 597.00,390.48 598.00,390.81 599.00,390.88 600.00,390.63 601.00,390.46 601.25,390.73 601.50,390.09 601.75,390.49 602.00,390.75 602.25,391.05 602.50,390.46 602.75,390.95 603.00,391.12 603.25,391.02 603.50,390.10 603.75,390.85 604.00,390.65 604.25,390.82 604.50,390.55 604.75,390.44 605.00,390.51 605.25,390.86 605.50,390.69 605.75,390.40 606.00,390.50 606.25,390.54 606.50,390.40 606.75,390.17 607.00,389.93 607.25,389.79 607.50,389.72 607.75,389.54 608.00,389.15 608.25,389.02 608.50,389.34 608.75,388.74 609.00,388.53 609.25,388.66 609.50,388.85 609.75,388.71 610.00,388.27 610.25,388.10 610.50,388.20 610.75,388.14 611.00,388.26 611.25,388.55 611.50,388.30 611.75,388.46 612.00,388.69 612.25,388.86 612.50,388.83 612.75,388.96 613.00,389.03 613.25,389.25 613.50,389.66 613.75,389.62 614.00,389.12 614.25,390.05 614.50,390.00 614.75,389.92 615.00,390.14 615.25,389.60 615.50,389.97 615.75,390.64 616.00,390.89 616.25,390.94 616.50,390.34 616.75,390.53 617.00,390.71 617.25,390.29 617.50,390.96 617.75,390.43 618.00,390.67 618.25,390.35 618.50,390.68 618.75,390.60 619.00,390.84 619.25,390.36 619.50,390.61 619.75,391.01 620.00,390.35 620.25,390.69 620.50,390.71 621.50,390.50 622.50,390.55 623.50,390.92 624.50,390.86 624.75,390.74 625.00,390.67 625.25,390.36 625.50,390.63 625.75,391.00 626.00,390.84 626.25,390.31 626.50,390.15 626.75,390.46 627.00,390.64 627.25,390.48 627.50,390.52 627.75,390.66 628.00,390.77 628.25,390.61 628.50,390.82 628.75,390.21 629.00,390.60 629.25,390.55 629.50,390.08 629.75,390.62 630.00,389.92 630.25,389.86 630.50,390.65 630.75,390.21 631.00,389.85 631.25,389.87 631.50,389.59 631.75,388.82 632.00,388.87 632.25,388.72 632.50,387.98 632.75,387.59 633.00,386.99 633.25,386.72 633.50,385.87 633.75,385.26 634.00,384.49 634.25,383.91 634.50,383.50 634.75,382.90 635.00,382.06 635.25,381.29 635.50,381.01 635.75,380.47 636.00,380.20 636.25,379.41 636.50,379.11 636.75,379.08 637.00,379.18 637.25,378.80 637.50,378.84 637.75,378.75 638.00,379.05 638.25,379.57 638.50,379.83 638.75,380.22 639.00,379.99 639.25,380.95 639.50,381.02 639.75,381.83 640.00,381.68 640.25,382.69 640.50,383.04 640.75,384.05 641.00,384.32 641.25,385.09 641.50,385.21 641.75,386.22 642.00,386.15 642.25,387.11 642.50,387.00 642.75,387.28 643.00,388.05 643.25,388.10 643.50,388.47 643.75,388.46 644.00,388.93 644.25,389.26 644.50,389.27 644.75,389.69 645.00,389.25 645.25,390.09 645.50,389.92 645.75,390.43 646.00,390.11 646.25,390.12 646.50,390.23 646.75,390.44 647.00,390.55 647.25,390.35 647.50,390.31 647.75,390.61 648.00,390.71 648.25,390.16 648.50,390.32 648.75,390.42 649.00,390.96 649.25,390.86 649.50,390.77 649.75,390.70 650.00,390.35 650.25,390.85 650.50,390.50 650.75,390.42 651.00,391.03 652.00,390.28 653.00,390.91 654.00,390.65 655.00,390.40 656.00,390.64 657.00,390.42 658.00,390.64 659.00,390.46 660.00,390.34 661.00,391.19 662.00,390.49 663.00,390.82 664.00,390.59 665.00,390.75" fill="none" stroke="#1e1e1e" stroke-width="1.1" stroke-linejoin="round"/>
<text x="392.2" y="89.8" font-size="14.5" fill="#111" stroke="#111" stroke-width="0.3">a</text>
<text x="418.4" y="87.7" font-size="14.5" fill="#111" stroke="#111" stroke-width="0.3">b</text>
<text x="445.0" y="47.3" font-size="14.5" fill="#111" stroke="#111" stroke-width="0.3">c</text>
<text x="553.1" y="70.6" font-size="14.5" fill="#111" stroke="#111" stroke-width="0.3">d</text>
<text x="608.1" y="96.8" font-size="14.5" fill="#111" stroke="#111" stroke-width="0.3">e</text>
<text x="633.7" y="78.2" font-size="14.5" fill="#111" stroke="#111" stroke-width="0.3">f</text>
<line x1="395.6" y1="130.1" x2="395.6" y2="229.3" stroke="#222" stroke-width="1.4" stroke-dasharray="4.8 3.8"/>
<line x1="395.6" y1="264.2" x2="395.6" y2="374.8" stroke="#222" stroke-width="1.4" stroke-dasharray="4.3 4.13"/>
<line x1="419.9" y1="130.1" x2="419.9" y2="229.3" stroke="#222" stroke-width="1.4" stroke-dasharray="4.8 3.8"/>
<line x1="419.9" y1="264.2" x2="419.9" y2="375.5" stroke="#222" stroke-width="1.4" stroke-dasharray="4.3 4.13"/>
<line x1="446.5" y1="130.1" x2="446.5" y2="169.2" stroke="#222" stroke-width="1.4" stroke-dasharray="4.8 3.8"/>
<line x1="446.5" y1="264.2" x2="446.5" y2="303.5" stroke="#222" stroke-width="1.4" stroke-dasharray="4.3 4.13"/>
<line x1="557.4" y1="130.1" x2="557.4" y2="199.4" stroke="#222" stroke-width="1.4" stroke-dasharray="4.8 3.8"/>
<line x1="557.4" y1="264.2" x2="557.4" y2="360.5" stroke="#222" stroke-width="1.4" stroke-dasharray="4.3 4.13"/>
<line x1="610.3" y1="130.1" x2="610.3" y2="229.6" stroke="#222" stroke-width="1.4" stroke-dasharray="4.8 3.8"/>
<line x1="610.3" y1="264.2" x2="610.3" y2="378.3" stroke="#222" stroke-width="1.4" stroke-dasharray="4.3 4.13"/>
<line x1="637.1" y1="130.1" x2="637.1" y2="212.1" stroke="#222" stroke-width="1.4" stroke-dasharray="4.8 3.8"/>
<line x1="637.1" y1="264.2" x2="637.1" y2="362.9" stroke="#222" stroke-width="1.4" stroke-dasharray="4.3 4.13"/>
<text x="317.4" y="414.8" font-size="12" text-anchor="middle" fill="#111" stroke="#111" stroke-width="0.15">0</text>
<text x="375.0" y="414.8" font-size="12" text-anchor="middle" fill="#111" stroke="#111" stroke-width="0.15">5</text>
<text x="434.4" y="414.8" font-size="12" text-anchor="middle" fill="#111" stroke="#111" stroke-width="0.15">10</text>
<text x="491.9" y="414.8" font-size="12" text-anchor="middle" fill="#111" stroke="#111" stroke-width="0.15">15</text>
<text x="549.3" y="414.8" font-size="12" text-anchor="middle" fill="#111" stroke="#111" stroke-width="0.15">20</text>
<text x="607.3" y="414.8" font-size="12" text-anchor="middle" fill="#111" stroke="#111" stroke-width="0.15">25</text>
<text x="662.6" y="414.8" font-size="12" text-anchor="middle" fill="#111" stroke="#111" stroke-width="0.15">30</text>
<text x="458.6" y="430.5" font-size="12.8" textLength="61.6" lengthAdjust="spacingAndGlyphs" fill="#111" stroke="#111" stroke-width="0.15">Time (mins)</text>
<rect x="472.1" y="10.5" width="61.5" height="84.8" fill="#2a2222"/>
<rect x="472.1" y="10.5" width="61.5" height="84.8" fill="#fff" opacity="0.25" filter="url(#grain)"/>
<path d="M511,30 L511,45 L507,58 L500,70" fill="none" stroke="#150f10" stroke-width="5" opacity="0.55" stroke-linecap="round" filter="url(#bl2)"/>
<path d="M506.5,18.0 L506.4,18.9 L506.2,20.1 L506.0,21.6 L505.8,23.2 L505.6,24.7 L505.4,26.2 L505.2,27.6 L505.0,28.9 L504.8,30.3 L504.7,31.6 L504.6,33.0 L504.6,34.3 L504.7,35.7 L505.0,37.1 L505.4,38.4 L505.7,39.8 L505.9,41.1 L506.0,42.4 L505.8,43.7 L505.5,44.9 L505.1,46.2 L504.6,47.3 L504.3,48.2 L504.0,48.9" fill="none" stroke="#a03a50" stroke-width="4.2" stroke-linecap="round" stroke-linejoin="round" opacity="0.9"/>
<path d="M504.0,48.9 L503.7,49.0 L503.2,49.1 L502.7,49.3 L502.1,49.5 L501.5,49.9 L501.0,50.5 L500.5,51.3 L499.9,52.4 L499.4,53.5 L498.9,54.8 L498.3,56.0 L497.8,57.0 L497.3,57.9 L496.7,58.7 L496.2,59.5 L495.7,60.3 L495.1,61.0 L494.6,61.8 L494.0,62.7 L493.4,63.6 L492.8,64.5 L492.2,65.4 L491.7,66.2 L491.3,66.7" fill="none" stroke="#962a45" stroke-width="2.8" stroke-linecap="round" stroke-linejoin="round" opacity="0.9"/>
<path d="M491.3,66.7 L491.1,67.1 L490.8,67.6 L490.5,68.2 L490.1,68.8 L489.8,69.4 L489.5,70.0 L489.2,70.5 L489.0,71.1 L488.7,71.6 L488.4,72.1 L488.2,72.5 L488.1,72.8" fill="none" stroke="#b89860" stroke-width="3.5" stroke-linecap="round" stroke-linejoin="round" opacity="0.9"/>
<path d="M506.1,17.9 L505.5,18.8 L505.1,20.0 L505.2,21.5 L505.2,23.1 L504.5,24.6 L504.4,26.1 L505.0,27.5 L505.1,28.9 L504.7,30.2 L504.3,31.6 L503.5,32.9 L504.2,34.3 L504.7,35.7 L504.8,37.1 L504.5,38.7 L505.3,39.9 L505.8,41.2 L504.9,42.4 L505.4,43.6 L504.6,44.7 L505.1,46.2 L503.9,47.0 L503.8,48.0 L503.9,48.9" fill="none" stroke="#d09050" stroke-width="1.18" stroke-linecap="round" stroke-linejoin="round" opacity="0.75"/>
<path d="M504.7,17.7 L505.4,18.8 L504.3,19.9 L504.6,21.4 L504.2,23.0 L504.7,24.6 L503.5,26.0 L503.7,27.3 L503.1,28.6 L503.0,30.0 L503.7,31.5 L503.5,32.9 L503.8,34.3 L503.9,35.8 L504.3,37.2 L504.4,38.7 L504.3,40.1 L505.3,41.2 L504.4,42.3 L504.8,43.4 L504.5,44.6 L503.4,45.5 L503.5,46.8 L503.3,47.8 L502.8,48.5" fill="none" stroke="#b84a58" stroke-width="1.02" stroke-linecap="round" stroke-linejoin="round" opacity="0.76"/>
<path d="M503.6,17.6 L504.3,18.6 L504.1,19.8 L503.7,21.3 L503.6,22.9 L503.5,24.5 L502.7,25.9 L503.0,27.3 L502.5,28.5 L502.4,30.0 L501.8,31.3 L502.9,32.9 L502.7,34.4 L502.1,36.1 L502.9,37.6 L503.1,39.0 L502.9,40.4 L504.0,41.4 L503.8,42.3 L503.5,43.2 L503.0,44.2 L503.1,45.4 L502.8,46.5 L502.2,47.4 L501.2,47.9" fill="none" stroke="#a8304a" stroke-width="0.73" stroke-linecap="round" stroke-linejoin="round" opacity="0.88"/>
<path d="M507.4,18.1 L506.4,18.9 L506.8,20.2 L506.9,21.7 L506.7,23.3 L506.7,24.9 L506.6,26.4 L506.4,27.7 L505.4,29.0 L504.8,30.3 L505.8,31.7 L505.9,33.0 L504.6,34.3 L505.4,35.6 L505.8,36.9 L506.4,38.2 L506.2,39.7 L506.1,41.1 L506.7,42.4 L506.6,43.8 L506.7,45.3 L505.2,46.2 L505.9,47.8 L504.9,48.5 L504.2,49.0" fill="none" stroke="#b84a58" stroke-width="0.68" stroke-linecap="round" stroke-linejoin="round" opacity="0.93"/>
<path d="M503.8,17.6 L504.4,18.6 L504.5,19.9 L504.0,21.3 L504.3,23.0 L503.5,24.5 L503.8,26.0 L502.5,27.2 L502.7,28.6 L503.2,30.0 L502.5,31.4 L501.8,32.9 L502.2,34.4 L502.9,36.0 L503.2,37.5 L503.3,39.0 L503.0,40.4 L504.3,41.3 L503.4,42.3 L503.7,43.2 L503.9,44.4 L502.5,45.2 L502.2,46.3 L502.7,47.6 L502.0,48.1" fill="none" stroke="#d09050" stroke-width="0.91" stroke-linecap="round" stroke-linejoin="round" opacity="0.89"/>
<path d="M506.1,17.9 L506.0,18.8 L505.9,20.1 L505.8,21.6 L505.4,23.1 L505.8,24.8 L505.1,26.2 L505.5,27.6 L505.0,28.9 L504.5,30.2 L504.4,31.6 L504.9,33.0 L504.0,34.3 L504.5,35.7 L504.9,37.1 L506.0,38.3 L505.6,39.8 L506.3,41.1 L505.7,42.4 L505.9,43.7 L505.1,44.8 L504.9,46.1 L504.2,47.1 L504.4,48.3 L503.8,48.8" fill="none" stroke="#a8304a" stroke-width="1.04" stroke-linecap="round" stroke-linejoin="round" opacity="0.96"/>
<path d="M506.7,18.0 L506.8,19.0 L506.3,20.1 L506.1,21.6 L506.5,23.3 L506.3,24.8 L506.6,26.3 L505.5,27.6 L505.1,28.9 L505.6,30.3 L505.1,31.6 L505.0,33.0 L505.0,34.3 L505.9,35.5 L505.3,37.0 L506.0,38.3 L506.2,39.7 L506.8,41.0 L506.5,42.4 L506.2,43.7 L506.0,45.1 L505.5,46.3 L505.9,47.8 L505.4,48.7 L504.8,49.2" fill="none" stroke="#b84a58" stroke-width="0.99" stroke-linecap="round" stroke-linejoin="round" opacity="0.80"/>
<path d="M505.3,17.8 L504.8,18.7 L504.7,19.9 L505.6,21.5 L504.4,23.0 L505.2,24.7 L503.9,26.0 L504.4,27.4 L504.1,28.8 L504.1,30.2 L504.0,31.5 L503.5,32.9 L504.3,34.3 L504.3,35.7 L503.9,37.3 L504.7,38.6 L505.0,40.0 L504.4,41.3 L504.6,42.3 L504.5,43.4 L504.4,44.6 L504.2,45.8 L503.2,46.7 L503.4,47.9 L503.4,48.7" fill="none" stroke="#d09050" stroke-width="0.78" stroke-linecap="round" stroke-linejoin="round" opacity="0.88"/>
<path d="M503.7,17.6 L503.8,18.5 L504.2,19.8 L503.4,21.2 L503.4,22.9 L503.6,24.5 L503.7,26.0 L502.9,27.2 L502.8,28.6 L502.1,29.9 L501.9,31.4 L502.3,32.9 L502.6,34.4 L502.1,36.1 L503.6,37.4 L503.8,38.8 L503.5,40.3 L503.6,41.4 L504.3,42.3 L503.5,43.2 L502.9,44.1 L503.2,45.5 L502.7,46.5 L502.6,47.6 L502.2,48.2" fill="none" stroke="#c08050" stroke-width="1.18" stroke-linecap="round" stroke-linejoin="round" opacity="0.84"/>
<path d="M504.2,17.7 L504.5,18.6 L503.3,19.7 L503.8,21.3 L503.7,22.9 L503.6,24.5 L502.5,25.8 L503.0,27.3 L503.1,28.6 L502.7,30.0 L503.0,31.5 L502.2,32.9 L502.5,34.4 L502.8,36.0 L502.5,37.6 L502.8,39.1 L504.2,40.1 L503.7,41.4 L504.1,42.3 L503.1,43.1 L503.0,44.2 L503.3,45.5 L502.9,46.6 L502.6,47.6 L501.3,47.9" fill="none" stroke="#b84a58" stroke-width="0.78" stroke-linecap="round" stroke-linejoin="round" opacity="0.90"/>
<path d="M503.9,48.6 L503.6,48.7 L503.4,49.7 L502.9,49.7 L502.3,49.8 L501.5,49.8 L501.0,50.5 L500.3,51.2 L500.4,52.6 L499.6,53.6 L498.8,54.7 L498.1,55.9 L498.2,57.2 L497.8,58.2 L496.8,58.7 L496.1,59.4 L496.1,60.5 L495.1,61.0 L494.9,62.0 L494.1,62.8 L493.2,63.5 L492.7,64.5 L492.1,65.4 L491.4,66.0 L491.2,66.7" fill="none" stroke="#b85060" stroke-width="1.13" stroke-linecap="round" stroke-linejoin="round" opacity="0.96"/>
<path d="M503.9,48.6 L503.7,49.1 L503.2,49.0 L502.8,49.6 L502.4,50.0 L501.4,49.8 L501.0,50.5 L500.4,51.3 L500.0,52.4 L499.7,53.7 L499.3,54.9 L498.2,55.9 L497.5,56.8 L496.9,57.7 L496.8,58.7 L496.3,59.6 L495.7,60.3 L495.6,61.3 L494.5,61.7 L494.3,62.8 L493.8,63.9 L493.2,64.8 L491.9,65.2 L491.9,66.3 L491.4,66.8" fill="none" stroke="#b03550" stroke-width="0.73" stroke-linecap="round" stroke-linejoin="round" opacity="0.85"/>
<path d="M503.9,48.6 L503.8,49.3 L503.2,49.0 L502.6,48.9 L502.0,49.4 L501.8,50.2 L501.2,50.7 L500.2,51.1 L500.3,52.5 L499.4,53.5 L499.0,54.8 L498.7,56.1 L497.7,57.0 L497.7,58.2 L497.1,59.0 L496.3,59.6 L496.1,60.5 L495.5,61.3 L494.6,61.8 L493.9,62.6 L493.1,63.4 L493.1,64.8 L492.3,65.5 L491.8,66.3 L491.3,66.7" fill="none" stroke="#9a2845" stroke-width="0.94" stroke-linecap="round" stroke-linejoin="round" opacity="0.98"/>
<path d="M504.3,49.6 L503.9,49.6 L503.3,49.5 L502.8,49.5 L502.4,50.1 L501.5,49.9 L501.3,50.7 L501.1,51.7 L500.7,52.7 L500.0,53.8 L498.9,54.8 L498.9,56.2 L497.7,57.0 L497.3,57.9 L496.8,58.7 L496.6,59.8 L496.1,60.6 L495.8,61.5 L495.3,62.3 L494.5,63.0 L493.7,63.8 L493.5,65.0 L492.2,65.4 L492.0,66.4 L491.7,67.0" fill="none" stroke="#9a2845" stroke-width="0.89" stroke-linecap="round" stroke-linejoin="round" opacity="0.87"/>
<path d="M503.4,47.2 L503.4,48.0 L502.8,47.5 L502.3,48.3 L501.6,48.6 L500.3,48.5 L499.7,49.5 L499.4,50.7 L499.0,51.9 L497.6,52.8 L497.4,54.1 L496.7,55.2 L496.8,56.5 L495.9,57.1 L495.6,58.0 L495.2,58.8 L494.6,59.5 L493.8,60.1 L493.5,61.1 L492.9,61.9 L492.5,63.0 L491.2,63.5 L490.8,64.5 L490.2,65.2 L490.1,65.9" fill="none" stroke="#9a2845" stroke-width="1.13" stroke-linecap="round" stroke-linejoin="round" opacity="0.88"/>
<path d="M504.0,48.9 L503.7,49.0 L503.3,49.3 L502.8,49.4 L502.1,49.6 L501.6,49.9 L500.8,50.3 L499.8,51.0 L499.5,52.2 L499.3,53.5 L498.7,54.7 L498.2,55.9 L497.2,56.6 L496.7,57.5 L496.6,58.7 L496.0,59.4 L495.7,60.3 L494.8,60.8 L494.7,61.9 L493.5,62.3 L492.8,63.2 L492.5,64.4 L491.9,65.2 L491.7,66.2 L490.8,66.4" fill="none" stroke="#b85060" stroke-width="1.08" stroke-linecap="round" stroke-linejoin="round" opacity="0.92"/>
<path d="M504.6,50.5 L504.0,50.2 L503.7,50.7 L503.4,51.1 L503.1,51.3 L502.5,51.1 L501.9,51.2 L502.1,52.2 L501.0,52.9 L500.9,54.2 L500.3,55.4 L499.9,56.7 L498.7,57.5 L498.9,58.9 L497.8,59.4 L497.4,60.3 L496.8,61.0 L496.3,61.8 L495.5,62.4 L495.1,63.4 L494.5,64.3 L494.3,65.6 L493.5,66.3 L493.3,67.2 L492.1,67.3" fill="none" stroke="#9a2845" stroke-width="0.93" stroke-linecap="round" stroke-linejoin="round" opacity="0.94"/>
<path d="M505.6,24.7 Q504.5,22.1 502.9,19.7" fill="none" stroke="#c09a58" stroke-width="0.6" opacity="0.8"/>
<path d="M505.0,28.9 Q506.7,28.8 507.3,29.0" fill="none" stroke="#c09a58" stroke-width="0.6" opacity="0.8"/>
<path d="M506.4,18.9 Q509.7,19.6 511.6,20.0" fill="none" stroke="#c09a58" stroke-width="0.6" opacity="0.8"/>
<path d="M506.0,21.6 Q506.3,19.3 505.4,18.7" fill="none" stroke="#c09a58" stroke-width="0.6" opacity="0.8"/>
<path d="M505.4,38.4 Q505.9,38.7 508.2,39.4" fill="none" stroke="#c09a58" stroke-width="0.6" opacity="0.8"/>
<path d="M506.4,18.9 Q508.8,20.0 511.5,20.5" fill="none" stroke="#c09a58" stroke-width="0.6" opacity="0.8"/>
<path d="M506.4,18.9 Q508.1,18.7 509.0,18.0" fill="none" stroke="#c09a58" stroke-width="0.6" opacity="0.8"/>
<path d="M505.4,26.2 Q503.9,25.2 503.1,25.7" fill="none" stroke="#c09a58" stroke-width="0.6" opacity="0.8"/>
<path d="M505.9,41.1 Q506.4,41.5 508.6,40.9" fill="none" stroke="#c09a58" stroke-width="0.6" opacity="0.8"/>
<path d="M505.8,43.7 Q507.9,44.0 510.0,44.1" fill="none" stroke="#c09a58" stroke-width="0.6" opacity="0.8"/>
<path d="M504.6,34.3 Q502.4,34.6 502.1,33.9" fill="none" stroke="#c09a58" stroke-width="0.6" opacity="0.8"/>
<path d="M504.6,47.3 Q501.6,47.3 499.6,48.9" fill="none" stroke="#c09a58" stroke-width="0.6" opacity="0.8"/>
<path d="M504.8,30.3 Q501.8,30.3 499.8,30.8" fill="none" stroke="#c09a58" stroke-width="0.6" opacity="0.8"/>
<path d="M505.8,23.2 Q506.1,23.2 507.4,24.9" fill="none" stroke="#c09a58" stroke-width="0.6" opacity="0.8"/>
<path d="M504.7,35.7 Q506.6,35.2 509.3,34.7" fill="none" stroke="#c09a58" stroke-width="0.6" opacity="0.8"/>
<path d="M505.2,27.6 Q506.1,27.7 507.9,28.4" fill="none" stroke="#c09a58" stroke-width="0.6" opacity="0.8"/>
<path d="M502.7,49.3 Q504.4,50.8 506.6,51.2" fill="none" stroke="#b88a58" stroke-width="0.6" opacity="0.8"/>
<path d="M504.0,48.9 Q506.1,47.8 507.1,46.5" fill="none" stroke="#b88a58" stroke-width="0.6" opacity="0.8"/>
<path d="M496.7,58.7 Q498.6,59.4 499.3,61.9" fill="none" stroke="#b88a58" stroke-width="0.6" opacity="0.8"/>
<path d="M503.7,49.0 Q503.9,47.4 502.8,46.3" fill="none" stroke="#b88a58" stroke-width="0.6" opacity="0.8"/>
<path d="M502.1,49.5 Q500.8,50.9 500.9,52.2" fill="none" stroke="#b88a58" stroke-width="0.6" opacity="0.8"/>
<path d="M498.9,54.8 Q499.2,56.0 498.4,56.9" fill="none" stroke="#b88a58" stroke-width="0.6" opacity="0.8"/>
<path d="M504.0,48.9 Q506.4,50.5 507.5,52.3" fill="none" stroke="#b88a58" stroke-width="0.6" opacity="0.8"/>
<path d="M499.9,52.4 Q501.2,51.6 503.6,51.2" fill="none" stroke="#b88a58" stroke-width="0.6" opacity="0.8"/>
<path d="M492.1,67.1 L492.3,67.7 L491.0,67.7 L491.7,68.8 L489.6,68.5 L490.8,70.0 L489.8,70.1 L489.4,70.6 L490.2,71.7 L488.6,71.6 L489.1,72.4 L488.9,72.8 L489.0,73.2" fill="none" stroke="#d0b070" stroke-width="0.82" stroke-linecap="round" stroke-linejoin="round" opacity="0.81"/>
<path d="M491.1,66.6 L490.2,66.6 L489.6,66.9 L490.1,68.0 L488.8,68.1 L489.3,69.1 L490.0,70.3 L488.2,70.0 L488.8,71.0 L489.3,71.9 L487.1,71.4 L488.9,72.8 L487.6,72.5" fill="none" stroke="#b8985a" stroke-width="0.84" stroke-linecap="round" stroke-linejoin="round" opacity="0.97"/>
<path d="M492.3,67.3 L490.8,66.9 L491.6,68.0 L490.8,68.4 L490.0,68.7 L489.6,69.3 L490.2,70.3 L488.9,70.4 L488.7,70.9 L488.7,71.6 L488.0,71.8 L489.6,73.2 L488.5,73.0" fill="none" stroke="#b8985a" stroke-width="0.77" stroke-linecap="round" stroke-linejoin="round" opacity="0.79"/>
<path d="M493.2,67.7 L492.7,68.0 L492.6,68.5 L490.9,68.4 L490.2,68.9 L491.4,70.3 L489.8,70.2 L490.5,71.2 L489.5,71.3 L488.8,71.7 L489.1,72.4 L488.5,72.6 L489.3,73.4" fill="none" stroke="#a88850" stroke-width="0.61" stroke-linecap="round" stroke-linejoin="round" opacity="0.88"/>
<path d="M490.3,66.2 L491.8,67.5 L490.1,67.2 L490.0,67.9 L489.8,68.6 L489.5,69.3 L489.1,69.8 L488.5,70.2 L488.7,71.0 L487.8,71.1 L488.0,71.9 L487.0,71.9 L487.7,72.6" fill="none" stroke="#b8985a" stroke-width="0.63" stroke-linecap="round" stroke-linejoin="round" opacity="0.79"/>
<path d="M491.2,66.7 L491.3,67.2 L491.6,68.0 L491.7,68.8 L491.3,69.4 L490.4,69.8 L489.6,70.1 L489.0,70.4 L488.8,71.0 L489.4,72.0 L487.8,71.8 L489.0,72.9 L487.9,72.7" fill="none" stroke="#c8a468" stroke-width="0.64" stroke-linecap="round" stroke-linejoin="round" opacity="0.94"/>
<path d="M489.9,65.9 L490.1,66.5 L489.5,66.9 L489.4,67.6 L489.3,68.4 L489.8,69.4 L488.9,69.7 L487.8,69.8 L488.9,71.1 L487.1,70.8 L487.7,71.7 L487.9,72.3 L488.6,73.0" fill="none" stroke="#d0b070" stroke-width="0.80" stroke-linecap="round" stroke-linejoin="round" opacity="0.79"/>
<path d="M491.5,66.0 Q494.0,64.1 496.1,62.7" fill="none" stroke="#c0a060" stroke-width="0.6" opacity="0.8"/>
<path d="M490.5,68.2 Q492.4,66.8 493.6,63.5" fill="none" stroke="#c0a060" stroke-width="0.6" opacity="0.8"/>
<path d="M489.2,70.6 Q489.9,69.2 491.3,68.8" fill="none" stroke="#c0a060" stroke-width="0.6" opacity="0.8"/>
<path d="M490.8,67.6 Q492.2,67.3 493.0,66.0" fill="none" stroke="#c0a060" stroke-width="0.6" opacity="0.8"/>
<path d="M489.2,70.6 Q488.2,69.1 486.8,67.1" fill="none" stroke="#c0a060" stroke-width="0.6" opacity="0.8"/>
<path d="M492.4,64.2 Q492.0,62.5 491.9,60.6" fill="none" stroke="#c0a060" stroke-width="0.6" opacity="0.8"/>
<path d="M489.2,70.6 Q488.9,73.1 488.2,73.6" fill="none" stroke="#c0a060" stroke-width="0.6" opacity="0.8"/>
<path d="M489.8,69.4 Q488.2,70.2 487.5,70.7" fill="none" stroke="#c0a060" stroke-width="0.6" opacity="0.8"/>
<path d="M493.0,63.0 Q493.7,64.6 494.1,65.5" fill="none" stroke="#c0a060" stroke-width="0.6" opacity="0.8"/>
<path d="M488.1,72.8 Q487.9,72.4 487.8,70.6" fill="none" stroke="#c0a060" stroke-width="0.6" opacity="0.8"/>
<path d="M490.8,67.6 Q490.0,70.9 488.6,72.5" fill="none" stroke="#c0a060" stroke-width="0.6" opacity="0.8"/>
<path d="M489.2,70.6 Q491.5,69.9 492.7,67.9" fill="none" stroke="#c0a060" stroke-width="0.6" opacity="0.8"/>
<path d="M491.3,66.7 Q490.9,67.2 492.2,69.2" fill="none" stroke="#c0a060" stroke-width="0.6" opacity="0.8"/>
<path d="M490.5,68.2 Q488.5,67.9 487.1,66.5" fill="none" stroke="#c0a060" stroke-width="0.6" opacity="0.8"/>
<path d="M506.9,10.5 L506.6,18.5" stroke="#e0b840" stroke-width="1.7" fill="none"/>
<rect x="512.1" y="85.9" width="14.600000000000023" height="2" fill="#fff"/>
<rect x="470.8" y="143.8" width="62.400000000000034" height="84.6" fill="#2d2525"/>
<rect x="470.8" y="143.8" width="62.400000000000034" height="84.6" fill="#fff" opacity="0.25" filter="url(#grain)"/>
<path d="M514,172 L515,190 L512,205" fill="none" stroke="#150f10" stroke-width="5" opacity="0.55" stroke-linecap="round" filter="url(#bl2)"/>
<path d="M513.3,143.8 L510.5,151 L507.2,160.5" stroke="#dcc43a" stroke-width="1.6" fill="none" stroke-linecap="round"/>
<path d="M507.2,160.5 L507.1,161.1 L507.0,161.9 L506.8,162.9 L506.6,163.9 L506.5,165.0 L506.5,166.0 L506.6,167.0 L506.7,168.0 L506.8,169.0 L507.0,170.0 L507.3,171.0 L507.5,172.0 L507.8,173.0 L508.1,174.0 L508.5,175.0 L508.9,175.9 L509.2,176.6 L509.4,177.2" fill="none" stroke="#74203a" stroke-width="4.4" stroke-linecap="round" stroke-linejoin="round" opacity="0.9"/>
<path d="M509.4,177.2 L509.6,178.2 L509.9,179.7 L510.3,181.4 L510.6,183.3 L510.9,185.1 L511.0,186.7 L510.9,188.2 L510.8,189.6 L510.5,191.0 L510.2,192.4 L509.8,193.8 L509.4,195.2 L508.9,196.6 L508.4,198.1 L507.8,199.6 L507.2,201.0 L506.7,202.4 L506.2,203.7 L505.8,204.9 L505.3,206.0 L504.9,207.0 L504.6,208.0 L504.3,209.1 L504.1,210.1 L504.0,211.2 L504.1,212.5 L504.2,213.7 L504.3,214.8 L504.4,215.8 L504.5,216.5" fill="none" stroke="#74203a" stroke-width="3.6" stroke-linecap="round" stroke-linejoin="round" opacity="0.9"/>
<path d="M508.2,160.7 L508.4,161.3 L507.9,162.1 L508.6,163.2 L508.5,164.2 L508.4,165.1 L508.3,166.0 L508.1,166.8 L508.2,167.8 L508.1,168.8 L508.2,169.8 L509.1,170.6 L509.0,171.6 L509.1,172.5 L509.6,173.4 L510.2,174.3 L510.1,175.4 L510.7,176.1 L510.6,176.7" fill="none" stroke="#c06a80" stroke-width="1.00" stroke-linecap="round" stroke-linejoin="round" opacity="0.99"/>
<path d="M505.2,160.2 L504.7,160.7 L504.7,161.5 L505.2,162.6 L504.3,163.6 L504.0,164.8 L504.2,166.0 L504.8,167.1 L504.8,168.2 L505.2,169.3 L504.6,170.5 L505.1,171.5 L505.3,172.6 L506.2,173.5 L506.6,174.6 L506.7,175.7 L506.6,176.8 L507.7,177.2 L507.6,177.9" fill="none" stroke="#7a2038" stroke-width="0.83" stroke-linecap="round" stroke-linejoin="round" opacity="1.00"/>
<path d="M508.6,160.7 L507.7,161.2 L507.9,162.1 L507.9,163.1 L508.0,164.1 L507.2,165.0 L507.2,166.0 L507.9,166.9 L507.8,167.8 L508.2,168.8 L508.5,169.7 L508.0,170.9 L508.9,171.6 L508.5,172.7 L509.6,173.5 L509.4,174.6 L509.4,175.7 L509.8,176.4 L510.8,176.7" fill="none" stroke="#7a2038" stroke-width="1.28" stroke-linecap="round" stroke-linejoin="round" opacity="0.80"/>
<path d="M505.8,160.3 L506.1,160.9 L505.8,161.7 L505.0,162.6 L505.1,163.7 L505.1,164.9 L505.6,166.0 L505.3,167.1 L505.0,168.2 L505.5,169.3 L505.6,170.3 L505.5,171.5 L506.0,172.4 L506.3,173.4 L507.3,174.3 L507.7,175.3 L507.3,176.5 L508.0,177.1 L507.8,177.8" fill="none" stroke="#7a2038" stroke-width="1.20" stroke-linecap="round" stroke-linejoin="round" opacity="0.98"/>
<path d="M507.4,160.5 L508.0,161.2 L507.2,162.0 L507.4,163.0 L506.7,163.9 L506.6,165.0 L507.3,166.0 L507.2,166.9 L507.5,167.9 L507.4,168.9 L507.8,169.9 L507.6,171.0 L508.4,171.8 L508.6,172.7 L508.7,173.8 L509.4,174.6 L509.5,175.6 L509.3,176.6 L509.6,177.1" fill="none" stroke="#8a2a42" stroke-width="0.82" stroke-linecap="round" stroke-linejoin="round" opacity="0.75"/>
<path d="M505.6,160.2 L506.0,160.9 L505.7,161.7 L504.9,162.6 L504.7,163.7 L505.5,164.9 L505.3,166.0 L505.1,167.1 L505.4,168.2 L505.1,169.3 L505.7,170.3 L505.5,171.5 L506.4,172.3 L506.3,173.4 L506.3,174.7 L506.9,175.6 L507.9,176.3 L508.1,177.1 L507.9,177.8" fill="none" stroke="#b05070" stroke-width="0.92" stroke-linecap="round" stroke-linejoin="round" opacity="0.84"/>
<path d="M507.4,160.5 L506.8,161.0 L506.6,161.8 L507.2,162.9 L507.2,164.0 L507.1,165.0 L506.7,166.0 L506.9,166.9 L506.6,168.0 L507.4,168.9 L507.6,169.9 L507.6,171.0 L507.9,171.9 L507.7,173.0 L508.5,173.9 L508.8,174.9 L508.7,176.0 L509.5,176.5 L509.3,177.2" fill="none" stroke="#c06a80" stroke-width="1.23" stroke-linecap="round" stroke-linejoin="round" opacity="0.94"/>
<path d="M509.2,177.2 L509.2,178.3 L509.2,179.9 L510.2,181.4 L510.4,183.3 L510.4,185.1 L510.3,186.7 L510.2,188.1 L510.0,189.5 L510.5,191.0 L510.3,192.4 L509.1,193.6 L509.7,195.3 L508.8,196.6 L507.9,197.9 L507.6,199.5 L507.2,201.0 L506.0,202.1 L506.2,203.7 L505.5,204.8 L504.8,205.8 L505.1,207.1 L504.5,208.0 L504.1,209.0 L503.8,210.1 L504.2,211.2 L503.9,212.5 L504.5,213.7 L504.6,214.8 L504.4,215.8 L504.7,216.5" fill="none" stroke="#6a1a30" stroke-width="1.28" stroke-linecap="round" stroke-linejoin="round" opacity="0.82"/>
<path d="M510.0,177.1 L510.7,178.0 L510.4,179.6 L511.0,181.3 L511.6,183.1 L511.6,185.0 L512.2,186.7 L512.1,188.3 L511.2,189.7 L511.4,191.2 L510.5,192.5 L511.0,194.1 L510.6,195.6 L510.3,197.1 L508.9,198.3 L508.6,199.9 L508.6,201.6 L508.0,202.9 L506.6,203.9 L506.6,205.2 L505.7,206.1 L506.2,207.5 L505.3,208.3 L505.6,209.4 L504.7,210.2 L504.7,211.3 L504.8,212.4 L505.3,213.6 L504.6,214.8 L505.7,215.6 L505.9,216.4" fill="none" stroke="#8a2a42" stroke-width="1.11" stroke-linecap="round" stroke-linejoin="round" opacity="0.77"/>
<path d="M511.2,176.8 L511.2,177.9 L511.5,179.4 L511.5,181.2 L511.7,183.1 L512.3,184.9 L512.9,186.7 L512.7,188.3 L512.6,189.9 L512.2,191.4 L512.0,192.9 L510.9,194.1 L511.2,195.7 L510.3,197.1 L510.0,198.7 L509.5,200.2 L508.6,201.6 L507.7,202.8 L507.9,204.4 L507.2,205.4 L506.9,206.6 L506.9,207.7 L505.6,208.4 L505.7,209.4 L505.8,210.3 L505.7,211.3 L505.8,212.4 L506.2,213.5 L505.4,214.7 L506.5,215.6 L506.1,216.3" fill="none" stroke="#6a1a30" stroke-width="1.26" stroke-linecap="round" stroke-linejoin="round" opacity="0.84"/>
<path d="M511.5,176.8 L511.4,177.9 L511.7,179.3 L511.6,181.2 L512.4,183.0 L512.5,184.9 L512.9,186.7 L512.4,188.3 L512.2,189.8 L512.5,191.4 L512.4,193.0 L511.8,194.4 L511.3,195.8 L510.2,197.1 L510.4,198.9 L509.4,200.2 L508.8,201.6 L507.9,202.9 L508.3,204.5 L507.2,205.4 L507.2,206.7 L507.1,207.8 L506.2,208.5 L505.7,209.4 L505.8,210.3 L506.4,211.3 L505.3,212.4 L506.1,213.5 L506.0,214.6 L506.0,215.6 L506.6,216.3" fill="none" stroke="#6a1a30" stroke-width="0.95" stroke-linecap="round" stroke-linejoin="round" opacity="0.83"/>
<path d="M511.1,176.8 L511.3,177.9 L510.8,179.5 L511.9,181.1 L512.7,182.9 L512.9,184.9 L513.1,186.7 L513.0,188.3 L512.0,189.8 L511.5,191.2 L511.8,192.8 L511.3,194.2 L511.4,195.8 L510.5,197.2 L509.4,198.5 L509.2,200.1 L508.5,201.5 L507.9,202.9 L507.8,204.3 L507.3,205.5 L507.2,206.7 L506.5,207.6 L506.4,208.6 L506.1,209.5 L505.5,210.3 L506.0,211.3 L505.4,212.4 L505.5,213.6 L506.0,214.6 L506.4,215.6 L506.3,216.3" fill="none" stroke="#7a2038" stroke-width="0.97" stroke-linecap="round" stroke-linejoin="round" opacity="0.96"/>
<path d="M510.6,177.0 L511.8,177.8 L511.5,179.4 L512.4,181.0 L512.7,182.9 L512.2,184.9 L512.5,186.7 L513.2,188.4 L512.7,189.9 L511.8,191.3 L511.7,192.8 L511.7,194.3 L511.0,195.7 L510.3,197.1 L509.9,198.7 L509.7,200.3 L509.2,201.8 L508.2,203.0 L507.9,204.3 L507.5,205.6 L506.7,206.5 L507.0,207.8 L506.1,208.5 L506.0,209.5 L505.3,210.2 L505.5,211.3 L505.9,212.4 L506.2,213.5 L506.3,214.6 L506.0,215.6 L506.0,216.3" fill="none" stroke="#c06a80" stroke-width="0.85" stroke-linecap="round" stroke-linejoin="round" opacity="0.87"/>
<path d="M509.2,177.2 L508.9,178.4 L509.6,179.8 L509.8,181.5 L510.5,183.3 L510.0,185.2 L510.8,186.7 L510.0,188.1 L510.3,189.5 L509.7,190.9 L509.4,192.2 L509.2,193.6 L508.3,194.9 L507.8,196.3 L508.0,198.0 L507.4,199.4 L506.2,200.6 L506.5,202.3 L505.7,203.5 L505.2,204.7 L504.2,205.5 L504.7,207.0 L503.8,207.8 L503.3,208.8 L503.2,210.0 L504.0,211.2 L502.9,212.5 L503.7,213.7 L503.2,215.0 L503.6,215.9 L503.9,216.6" fill="none" stroke="#6a1a30" stroke-width="1.20" stroke-linecap="round" stroke-linejoin="round" opacity="0.92"/>
<path d="M504,201 Q497,203 497,212 Q498,219 501,222" fill="none" stroke="#8a7048" stroke-width="0.8" opacity="0.85"/>
<path d="M503,206 Q500,212 502,220" fill="none" stroke="#8a7048" stroke-width="0.8" opacity="0.85"/>
<path d="M506,208 Q509,214 511,221" fill="none" stroke="#8a7048" stroke-width="0.8" opacity="0.85"/>
<path d="M505,212 Q506,218 507,223" fill="none" stroke="#8a7048" stroke-width="0.8" opacity="0.85"/>
<path d="M502,204 Q499,206 499,210" fill="none" stroke="#8a7048" stroke-width="0.8" opacity="0.85"/>
<path d="M504.6,208.0 Q505.5,207.6 507.2,206.5" fill="none" stroke="#a88a58" stroke-width="0.6" opacity="0.8"/>
<path d="M509.4,195.2 Q509.2,197.0 511.0,197.7" fill="none" stroke="#a88a58" stroke-width="0.6" opacity="0.8"/>
<path d="M504.1,212.5 Q504.7,211.5 505.1,210.7" fill="none" stroke="#a88a58" stroke-width="0.6" opacity="0.8"/>
<path d="M507.9,199.0 Q507.2,197.9 507.7,196.7" fill="none" stroke="#a88a58" stroke-width="0.6" opacity="0.8"/>
<path d="M504.1,210.1 Q503.6,208.4 502.5,207.8" fill="none" stroke="#a88a58" stroke-width="0.6" opacity="0.8"/>
<path d="M505.3,206.0 Q505.9,204.5 507.4,204.8" fill="none" stroke="#a88a58" stroke-width="0.6" opacity="0.8"/>
<path d="M504.3,214.8 Q502.6,215.2 502.1,217.1" fill="none" stroke="#a88a58" stroke-width="0.6" opacity="0.8"/>
<path d="M504.4,215.8 Q502.9,215.2 501.5,213.8" fill="none" stroke="#a88a58" stroke-width="0.6" opacity="0.8"/>
<rect x="513.3" y="219.3" width="14.200000000000045" height="2" fill="#fff"/>
<rect x="471.2" y="288.7" width="62.19999999999999" height="84.5" fill="#272423"/>
<rect x="471.2" y="288.7" width="62.19999999999999" height="84.5" fill="#fff" opacity="0.25" filter="url(#grain)"/>
<path d="M523,305 L519,318 L513,330" fill="none" stroke="#150f10" stroke-width="5" opacity="0.55" stroke-linecap="round" filter="url(#bl2)"/>
<path d="M518.4,288.7 L520.0,296.5" stroke="#e6d040" stroke-width="1.6" fill="none" stroke-linecap="round"/>
<path d="M520.0,296.7 L520.0,297.1 L519.9,297.7 L519.9,298.4 L519.8,299.2 L519.7,300.1 L519.5,301.0 L519.3,302.0 L519.0,303.1 L518.7,304.3 L518.4,305.6 L518.0,306.8 L517.6,308.0 L517.1,309.2 L516.5,310.6 L515.9,311.9 L515.3,313.2 L514.9,314.2 L514.5,315.0" fill="none" stroke="#d0ac6c" stroke-width="4.0" stroke-linecap="round" stroke-linejoin="round" opacity="0.9"/>
<path d="M514.5,315.0 L514.1,315.7 L513.4,316.6 L512.7,317.6 L511.9,318.8 L511.2,319.9 L510.5,321.0 L509.8,322.1 L509.2,323.2 L508.5,324.4 L507.9,325.4 L507.4,326.3 L507.0,327.0" fill="none" stroke="#c49470" stroke-width="4.0" stroke-linecap="round" stroke-linejoin="round" opacity="0.9"/>
<path d="M507.0,327.0 L506.5,327.6 L505.7,328.5 L504.9,329.6 L503.9,330.7 L502.9,331.9 L502.0,333.0 L501.0,334.1 L499.9,335.4 L498.7,336.6 L497.6,337.8 L496.7,338.8 L496.0,339.5" fill="none" stroke="#ccaa70" stroke-width="3.2" stroke-linecap="round" stroke-linejoin="round" opacity="0.9"/>
<path d="M521.8,296.9 L522.4,297.3 L521.8,297.9 L521.7,298.6 L522.0,299.5 L521.9,300.4 L521.7,301.4 L520.6,302.3 L520.3,303.5 L520.5,304.8 L520.4,306.1 L520.2,307.5 L519.0,308.5 L518.6,309.9 L518.1,311.3 L517.6,312.7 L516.9,313.9 L516.4,315.0 L515.7,315.6" fill="none" stroke="#c89a60" stroke-width="1.40" stroke-linecap="round" stroke-linejoin="round" opacity="0.80"/>
<path d="M518.8,296.6 L519.7,297.1 L519.8,297.7 L519.4,298.4 L519.6,299.2 L519.2,300.0 L519.4,301.0 L519.0,301.9 L519.0,303.1 L518.2,304.2 L518.0,305.5 L517.1,306.5 L517.1,307.8 L516.9,309.2 L515.5,310.1 L514.9,311.5 L514.6,312.8 L514.6,314.1 L514.0,314.8" fill="none" stroke="#caa070" stroke-width="1.12" stroke-linecap="round" stroke-linejoin="round" opacity="0.85"/>
<path d="M522.0,296.9 L522.3,297.3 L521.7,297.8 L521.4,298.6 L522.0,299.5 L522.1,300.5 L521.8,301.5 L521.3,302.5 L520.6,303.5 L520.3,304.7 L519.8,306.0 L519.8,307.4 L519.1,308.5 L518.7,309.9 L518.1,311.3 L518.1,312.9 L517.1,314.0 L516.4,315.0 L515.9,315.6" fill="none" stroke="#caa070" stroke-width="0.83" stroke-linecap="round" stroke-linejoin="round" opacity="0.96"/>
<path d="M518.2,296.5 L518.5,297.0 L517.8,297.6 L518.1,298.3 L518.3,299.0 L518.0,299.8 L518.1,300.7 L517.8,301.7 L517.2,302.7 L517.3,303.9 L517.0,305.2 L516.1,306.2 L515.2,307.1 L514.9,308.3 L514.9,309.9 L513.7,310.9 L514.0,312.6 L513.4,313.6 L513.2,314.4" fill="none" stroke="#e0c078" stroke-width="0.84" stroke-linecap="round" stroke-linejoin="round" opacity="0.90"/>
<path d="M519.2,296.6 L518.8,297.0 L518.4,297.6 L519.0,298.3 L518.2,299.0 L518.7,299.9 L518.6,300.8 L518.2,301.8 L517.4,302.7 L518.2,304.2 L517.4,305.3 L517.4,306.6 L516.6,307.6 L515.8,308.7 L515.6,310.2 L515.4,311.7 L514.2,312.6 L514.1,313.9 L514.0,314.8" fill="none" stroke="#caa070" stroke-width="1.03" stroke-linecap="round" stroke-linejoin="round" opacity="0.79"/>
<path d="M520.9,296.8 L520.4,297.2 L521.0,297.8 L520.5,298.5 L520.9,299.3 L520.1,300.2 L519.6,301.0 L519.7,302.1 L520.2,303.4 L519.3,304.5 L519.0,305.8 L518.7,307.0 L518.6,308.4 L517.9,309.6 L517.2,310.9 L517.0,312.4 L515.7,313.4 L515.7,314.6 L515.3,315.4" fill="none" stroke="#d8b268" stroke-width="0.86" stroke-linecap="round" stroke-linejoin="round" opacity="0.83"/>
<path d="M518.3,296.6 L518.6,297.0 L518.0,297.6 L518.2,298.3 L517.4,298.9 L517.4,299.7 L517.9,300.7 L518.0,301.7 L517.5,302.8 L516.6,303.8 L516.6,305.1 L516.8,306.4 L515.4,307.2 L515.2,308.5 L514.4,309.7 L514.2,311.1 L513.3,312.2 L513.4,313.6 L512.9,314.3" fill="none" stroke="#c89a60" stroke-width="1.42" stroke-linecap="round" stroke-linejoin="round" opacity="0.88"/>
<path d="M519.5,296.7 L519.8,297.1 L519.9,297.7 L519.6,298.4 L519.6,299.2 L519.7,300.1 L519.5,301.0 L519.7,302.1 L519.0,303.1 L518.2,304.2 L518.5,305.6 L518.1,306.8 L517.4,307.9 L517.0,309.2 L516.8,310.7 L515.9,311.9 L515.0,313.0 L515.3,314.4 L514.9,315.2" fill="none" stroke="#d8b268" stroke-width="1.33" stroke-linecap="round" stroke-linejoin="round" opacity="0.98"/>
<path d="M516.1,316.1 L515.6,316.7 L514.9,317.5 L514.3,318.7 L513.4,319.7 L512.8,321.0 L511.7,321.7 L511.2,322.9 L510.1,323.8 L509.9,325.2 L509.4,326.3 L508.8,327.2 L508.5,327.8" fill="none" stroke="#d0a070" stroke-width="0.73" stroke-linecap="round" stroke-linejoin="round" opacity="0.84"/>
<path d="M513.3,314.2 L512.6,314.6 L512.1,315.6 L510.7,316.3 L510.5,317.8 L509.5,318.8 L509.3,320.2 L508.3,321.2 L507.6,322.3 L507.1,323.6 L506.6,324.7 L505.4,325.2 L505.3,326.0" fill="none" stroke="#c08070" stroke-width="0.95" stroke-linecap="round" stroke-linejoin="round" opacity="0.80"/>
<path d="M512.5,313.7 L512.6,314.7 L512.2,315.7 L511.1,316.5 L510.5,317.8 L509.5,318.9 L509.0,320.1 L508.5,321.3 L508.1,322.6 L506.6,323.3 L506.1,324.4 L506.0,325.6 L505.4,326.1" fill="none" stroke="#d0a070" stroke-width="1.11" stroke-linecap="round" stroke-linejoin="round" opacity="0.88"/>
<path d="M513.4,314.3 L513.0,314.9 L512.1,315.6 L511.8,317.0 L510.2,317.6 L510.4,319.4 L509.2,320.2 L508.8,321.4 L507.8,322.4 L507.7,323.9 L506.9,324.9 L505.5,325.3 L505.4,326.1" fill="none" stroke="#c08070" stroke-width="0.85" stroke-linecap="round" stroke-linejoin="round" opacity="0.86"/>
<path d="M515.7,315.8 L515.9,316.9 L514.7,317.4 L514.6,318.9 L513.0,319.5 L512.5,320.8 L511.7,321.8 L511.0,322.7 L510.6,324.1 L509.6,325.0 L509.6,326.4 L509.1,327.3 L508.6,327.9" fill="none" stroke="#d0a070" stroke-width="1.24" stroke-linecap="round" stroke-linejoin="round" opacity="0.83"/>
<path d="M514.6,315.1 L514.4,315.9 L514.3,317.1 L513.3,318.0 L511.9,318.8 L511.2,319.9 L510.6,321.1 L510.0,322.1 L509.1,323.2 L508.8,324.5 L508.4,325.7 L507.7,326.5 L507.6,327.3" fill="none" stroke="#b87c74" stroke-width="0.73" stroke-linecap="round" stroke-linejoin="round" opacity="0.81"/>
<path d="M514.4,314.9 L513.8,315.5 L513.8,316.8 L513.1,317.9 L512.0,318.8 L511.8,320.3 L510.4,321.0 L510.5,322.5 L508.8,323.0 L508.6,324.4 L508.2,325.6 L507.8,326.6 L507.4,327.3" fill="none" stroke="#d0a070" stroke-width="1.29" stroke-linecap="round" stroke-linejoin="round" opacity="0.90"/>
<path d="M514.6,315.0 L514.5,316.0 L513.2,316.4 L512.8,317.7 L512.5,319.1 L511.6,320.2 L510.8,321.2 L509.8,322.1 L509.6,323.5 L508.3,324.3 L508.4,325.7 L507.3,326.3 L507.5,327.3" fill="none" stroke="#d0a070" stroke-width="1.12" stroke-linecap="round" stroke-linejoin="round" opacity="0.90"/>
<path d="M513.4,314.3 L512.6,314.7 L512.3,315.7 L511.5,316.8 L511.3,318.3 L510.4,319.4 L509.4,320.3 L508.7,321.4 L508.5,322.8 L507.1,323.6 L506.9,324.9 L506.3,325.7 L505.9,326.3" fill="none" stroke="#c08070" stroke-width="1.29" stroke-linecap="round" stroke-linejoin="round" opacity="0.83"/>
<path d="M507.1,327.1 L506.1,327.3 L505.7,328.5 L504.5,329.3 L503.5,330.4 L502.7,331.7 L502.0,333.0 L501.1,334.2 L499.7,335.2 L498.5,336.4 L497.3,337.5 L496.4,338.6 L495.6,339.1" fill="none" stroke="#d0a868" stroke-width="1.25" stroke-linecap="round" stroke-linejoin="round" opacity="0.80"/>
<path d="M507.1,327.1 L506.6,327.8 L505.7,328.5 L504.4,329.2 L504.1,330.9 L502.9,331.9 L501.7,332.8 L500.8,333.9 L500.1,335.6 L498.8,336.7 L497.6,337.8 L496.3,338.4 L495.9,339.4" fill="none" stroke="#d8b478" stroke-width="0.85" stroke-linecap="round" stroke-linejoin="round" opacity="0.87"/>
<path d="M507.1,327.1 L506.2,327.4 L505.4,328.3 L504.6,329.3 L504.3,331.1 L502.6,331.6 L502.1,333.1 L501.0,334.1 L500.1,335.6 L498.5,336.5 L497.8,338.0 L496.7,338.8 L496.3,339.8" fill="none" stroke="#d8b478" stroke-width="0.96" stroke-linecap="round" stroke-linejoin="round" opacity="0.95"/>
<path d="M506.2,326.4 L505.9,327.2 L505.1,328.0 L504.3,329.1 L503.7,330.6 L502.4,331.5 L501.5,332.5 L500.9,334.0 L499.2,334.8 L498.5,336.4 L497.2,337.4 L496.2,338.4 L495.4,339.0" fill="none" stroke="#d8b478" stroke-width="1.16" stroke-linecap="round" stroke-linejoin="round" opacity="0.87"/>
<path d="M505.8,326.0 L505.6,326.9 L504.9,327.8 L503.6,328.6 L503.1,330.0 L502.1,331.2 L501.2,332.3 L500.0,333.2 L498.8,334.4 L497.5,335.6 L496.9,337.2 L495.5,337.7 L495.3,338.9" fill="none" stroke="#c8a070" stroke-width="1.12" stroke-linecap="round" stroke-linejoin="round" opacity="0.92"/>
<path d="M507.7,327.5 L507.1,328.2 L507.0,329.5 L505.8,330.4 L504.5,331.2 L503.5,332.4 L502.7,333.6 L502.0,335.0 L500.5,336.0 L499.5,337.4 L498.3,338.5 L497.4,339.5 L496.6,340.0" fill="none" stroke="#d8b478" stroke-width="1.13" stroke-linecap="round" stroke-linejoin="round" opacity="0.99"/>
<path d="M495.9,339.4 L495.3,339.9 L494.8,340.8 L493.7,341.5 L492.8,342.5 L492.1,343.6 L490.8,343.8 L490.3,344.7 L489.4,344.9 L488.7,345.5 L487.8,345.4 L487.2,346.1 L486.5,346.1 L485.9,346.4 L485.3,346.8 L484.7,346.6 L484.2,346.5 L483.8,346.9 L483.5,346.9" fill="none" stroke="#c8a070" stroke-width="0.69" stroke-linecap="round" stroke-linejoin="round" opacity="0.86"/>
<path d="M496.3,339.8 L495.7,340.3 L495.0,341.1 L493.8,341.6 L492.9,342.6 L491.9,343.3 L491.3,344.4 L490.3,344.7 L489.6,345.4 L488.7,345.6 L488.0,345.9 L487.4,346.5 L486.6,346.4 L485.9,346.5 L485.4,347.1 L484.8,347.0 L484.3,347.2 L483.8,346.8 L483.6,347.3" fill="none" stroke="#d8b070" stroke-width="0.73" stroke-linecap="round" stroke-linejoin="round" opacity="0.80"/>
<path d="M496.1,339.6 L495.7,340.3 L494.9,340.9 L493.7,341.5 L492.8,342.5 L491.8,343.3 L491.0,343.9 L490.4,344.9 L489.5,345.2 L488.7,345.5 L487.8,345.5 L487.1,345.8 L486.6,346.5 L485.8,346.2 L485.3,346.6 L484.8,346.9 L484.3,347.1 L483.8,346.9 L483.5,346.9" fill="none" stroke="#e0c080" stroke-width="0.78" stroke-linecap="round" stroke-linejoin="round" opacity="0.83"/>
<path d="M495.7,339.2 L494.9,339.5 L494.4,340.4 L493.1,340.9 L492.5,342.1 L491.4,342.7 L490.5,343.3 L489.8,343.9 L489.1,344.4 L488.4,344.9 L487.6,344.9 L486.9,345.3 L486.3,345.5 L485.7,345.9 L485.1,345.7 L484.7,346.2 L484.1,345.9 L483.7,346.1 L483.4,345.8" fill="none" stroke="#c8a070" stroke-width="0.79" stroke-linecap="round" stroke-linejoin="round" opacity="0.89"/>
<path d="M509.5,320 q-3,-1 -2.5,-4 q2,-1 3,2" fill="none" stroke="#b89070" stroke-width="0.8"/>
<path d="M513.2,317.1 Q513.5,316.5 514.9,316.0" fill="none" stroke="#c8a070" stroke-width="0.6" opacity="0.8"/>
<path d="M515.6,312.7 Q517.2,313.2 517.2,313.4" fill="none" stroke="#c8a070" stroke-width="0.6" opacity="0.8"/>
<path d="M514.5,315.0 Q516.0,314.8 516.9,314.8" fill="none" stroke="#c8a070" stroke-width="0.6" opacity="0.8"/>
<path d="M519.9,298.4 Q519.3,298.4 519.0,297.0" fill="none" stroke="#c8a070" stroke-width="0.6" opacity="0.8"/>
<path d="M501.0,334.1 Q502.0,335.6 502.3,335.9" fill="none" stroke="#c8a070" stroke-width="0.6" opacity="0.8"/>
<path d="M508.8,324.0 Q510.1,325.9 509.8,326.2" fill="none" stroke="#c8a070" stroke-width="0.6" opacity="0.8"/>
<path d="M506.3,328.0 Q504.7,326.6 503.4,326.6" fill="none" stroke="#c8a070" stroke-width="0.6" opacity="0.8"/>
<path d="M511.1,320.0 Q509.1,321.1 507.9,320.4" fill="none" stroke="#c8a070" stroke-width="0.6" opacity="0.8"/>
<rect x="509.9" y="364.0" width="14.399999999999977" height="2" fill="#fff"/>
</svg>
</body></html>
